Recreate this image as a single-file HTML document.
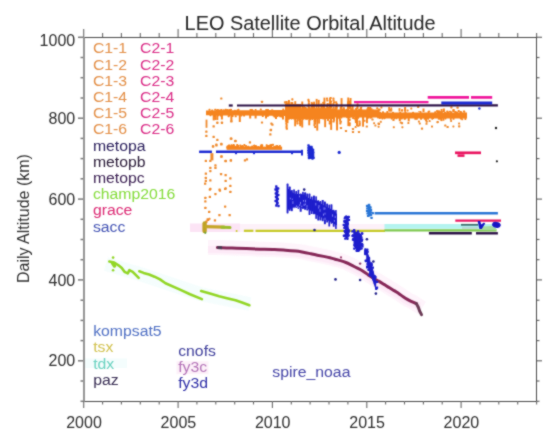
<!DOCTYPE html>
<html><head><meta charset="utf-8"><style>
html,body{margin:0;padding:0;background:#fff;}
svg{display:block;font-family:"Liberation Sans",sans-serif;will-change:transform;}
</style></head><body>
<svg width="550" height="439" viewBox="0 0 550 439">
<defs><filter id="bl" color-interpolation-filters="sRGB" x="0" y="0" width="550" height="439" filterUnits="userSpaceOnUse"><feConvolveMatrix order="3" kernelMatrix="1 2 1 2 12 2 1 2 1" divisor="24" edgeMode="duplicate"/></filter></defs>
<rect width="550" height="439" fill="#fff"/>
<g filter="url(#bl)">
<rect x="190.0" y="224.0" width="195.0" height="8.0" fill="#fdf1f9"/>
<rect x="190.0" y="223.5" width="50.0" height="8.5" fill="#fce4f5"/>
<polyline points="208.0,247.6 217.5,247.6 232.0,248.1 246.4,248.6 260.0,249.2 272.7,249.5 285.4,250.2 295.6,251.1 303.3,252.2 310.9,253.8 317.3,255.2 323.6,256.4 330.0,257.8 335.0,259.2 340.5,260.6 345.9,262.5 351.4,265.1 356.8,267.9 362.3,270.7 367.7,274.4 373.2,278.2 378.6,281.1 384.1,284.4 389.5,287.8 394.1,290.6 398.7,293.5 403.2,296.7 407.8,299.6 412.3,301.9 422.0,308.0" fill="none" stroke="#fef4fb" stroke-width="15" stroke-linecap="butt" stroke-linejoin="round"/>
<polyline points="208.0,249.5 217.5,249.6 232.0,250.1 246.4,250.6 260.0,251.2 272.7,251.5 285.4,252.2 295.6,253.1 303.3,254.2 310.9,255.8 317.3,257.2 323.6,258.4 330.0,259.8 335.0,261.2 340.5,262.6 345.9,264.5 351.4,267.1 356.8,269.9 362.3,272.7 367.7,276.4 373.2,280.2 378.6,283.1 384.1,286.4 389.5,289.8 394.1,292.6 398.7,295.5 403.2,298.7 407.8,301.6 412.3,303.9 420.0,306.0" fill="none" stroke="#fdeaf7" stroke-width="7" stroke-linecap="butt" stroke-linejoin="round"/>
<polyline points="106.0,264.0 140.0,274.0 200.0,294.0 250.0,304.0" fill="none" stroke="#f5fdfd" stroke-width="14" stroke-linecap="butt" stroke-linejoin="round"/>
<rect x="384.5" y="224.0" width="111.5" height="4.8" fill="#b4f4f0"/>
<line x1="243.9" y1="230.8" x2="253.4" y2="230.8" stroke="#c6ca26" stroke-width="2.2" stroke-linecap="butt"/>
<line x1="255.5" y1="230.8" x2="385.0" y2="230.8" stroke="#c6ca26" stroke-width="2.2" stroke-linecap="butt"/>
<circle cx="236.6" cy="231.1" r="1" fill="#c6ca26"/>
<line x1="384.5" y1="230.3" x2="496.6" y2="230.3" stroke="#7cc84e" stroke-width="2.2" stroke-linecap="butt"/>
<line x1="461.0" y1="224.8" x2="478.0" y2="224.8" stroke="#3c6a6a" stroke-width="1.8" stroke-linecap="butt"/>
<line x1="428.9" y1="233.3" x2="471.8" y2="233.3" stroke="#2b1045" stroke-width="2.4" stroke-linecap="butt"/>
<line x1="476.0" y1="233.3" x2="497.9" y2="233.3" stroke="#2b1045" stroke-width="2.4" stroke-linecap="butt"/>
<line x1="374.6" y1="213.2" x2="497.9" y2="213.2" stroke="#2a76d6" stroke-width="2.6" stroke-linecap="butt"/>
<line x1="455.3" y1="220.6" x2="501.0" y2="220.6" stroke="#ea1560" stroke-width="2.3" stroke-linecap="butt"/>
<line x1="455.0" y1="152.8" x2="481.0" y2="152.8" stroke="#ea1560" stroke-width="2.7" stroke-linecap="butt"/>
<rect x="457.5" y="154.3" width="7.0" height="2.6" fill="#ea1560"/>
<path d="M217.5,247.6 C219.9,247.7 227.2,247.9 232.0,248.1 C236.8,248.3 241.7,248.4 246.4,248.6 C251.1,248.8 255.6,249.0 260.0,249.2 C264.4,249.3 268.5,249.3 272.7,249.5 C276.9,249.7 281.6,249.9 285.4,250.2 C289.2,250.5 292.6,250.8 295.6,251.1 C298.6,251.4 300.8,251.8 303.3,252.2 C305.9,252.6 308.6,253.3 310.9,253.8 C313.2,254.3 315.2,254.8 317.3,255.2 C319.4,255.6 321.5,256.0 323.6,256.4 C325.7,256.8 328.1,257.3 330.0,257.8 C331.9,258.3 333.2,258.7 335.0,259.2 C336.8,259.7 338.7,260.1 340.5,260.6 C342.3,261.2 344.1,261.8 345.9,262.5 C347.7,263.2 349.6,264.2 351.4,265.1 C353.2,266.0 355.0,267.0 356.8,267.9 C358.6,268.8 360.5,269.6 362.3,270.7 C364.1,271.8 365.9,273.1 367.7,274.4 C369.5,275.6 371.4,277.1 373.2,278.2 C375.0,279.3 376.8,280.1 378.6,281.1 C380.4,282.1 382.3,283.3 384.1,284.4 C385.9,285.5 387.8,286.8 389.5,287.8 C391.2,288.8 392.6,289.7 394.1,290.6 C395.6,291.6 397.2,292.5 398.7,293.5 C400.2,294.5 401.7,295.7 403.2,296.7 C404.7,297.7 406.3,298.7 407.8,299.6 C409.3,300.5 410.9,301.2 412.3,301.9 C413.7,302.6 415.7,303.3 416.4,303.6" fill="none" stroke="#862858" stroke-width="3.0" stroke-linecap="round" stroke-linejoin="round"/>
<polyline points="416.4,303.6 418.3,307.3 419.6,311.0 421.5,314.6" fill="none" stroke="#6a3a55" stroke-width="3.0" stroke-linecap="round" stroke-linejoin="round"/>
<line x1="217.5" y1="247.6" x2="222.0" y2="247.8" stroke="#4a3a50" stroke-width="3.0" stroke-linecap="butt"/>
<polyline points="109.3,261.5 114.2,262.5 118.5,265.3 121.8,268.0 124.5,271.8 127.8,273.4 129.4,270.2 132.7,271.8 136.0,275.1 138.7,277.8" fill="none" stroke="#92d626" stroke-width="2.6" stroke-linecap="round" stroke-linejoin="round"/>
<polyline points="112.5,263.0 114.5,266.0" fill="none" stroke="#92d626" stroke-width="3.5" stroke-linecap="round" stroke-linejoin="round"/>
<polyline points="139.3,271.3 143.6,272.9 149.1,274.5 154.5,276.7 160.0,279.4 165.5,283.2 180.0,289.6 190.0,294.2 201.9,299.1" fill="none" stroke="#92d626" stroke-width="2.6" stroke-linecap="round" stroke-linejoin="round"/>
<polyline points="201.1,291.0 210.0,293.6 219.1,296.2 227.0,298.2 235.5,300.3 242.0,302.6 249.4,305.2" fill="none" stroke="#92d626" stroke-width="2.6" stroke-linecap="round" stroke-linejoin="round"/>
<circle cx="113.1" cy="257.6" r="1.3" fill="#92d626"/>
<circle cx="113.1" cy="270.2" r="1.3" fill="#92d626"/>
<polygon points="206.0,110.4 207.0,110.4 208.0,110.4 209.0,110.4 210.0,110.4 211.0,110.4 212.0,110.4 213.0,110.4 214.0,110.4 215.0,110.4 216.0,110.4 217.0,110.4 218.0,110.4 219.0,110.3 220.0,110.3 221.0,110.3 222.0,110.3 223.0,110.3 224.0,110.3 225.0,110.3 226.0,110.3 227.0,110.3 228.0,110.3 229.0,110.3 230.0,110.3 231.0,110.3 232.0,110.3 233.0,110.3 234.0,110.3 235.0,110.3 236.0,110.3 237.0,110.3 238.0,110.3 239.0,110.3 240.0,110.3 241.0,110.3 242.0,110.3 243.0,110.3 244.0,110.2 245.0,110.2 246.0,110.2 247.0,110.2 248.0,110.2 249.0,110.2 250.0,110.2 251.0,110.2 252.0,110.2 253.0,110.2 254.0,110.2 255.0,110.2 256.0,110.2 257.0,110.2 258.0,110.2 259.0,110.2 260.0,110.2 261.0,110.2 262.0,110.2 263.0,110.2 264.0,110.2 265.0,110.2 266.0,110.2 267.0,110.2 268.0,110.2 269.0,110.1 270.0,110.1 271.0,110.1 272.0,110.1 273.0,110.1 274.0,110.1 275.0,110.1 276.0,110.1 277.0,110.1 278.0,110.1 279.0,110.1 280.0,110.1 281.0,110.1 282.0,110.1 283.0,110.1 284.0,110.1 285.0,110.1 286.0,110.1 287.0,110.1 288.0,108.6 289.0,108.6 290.0,108.6 291.0,108.6 292.0,108.6 293.0,108.6 294.0,108.6 295.0,108.6 296.0,108.6 297.0,108.6 298.0,108.6 299.0,108.6 300.0,108.6 301.0,108.6 302.0,108.6 303.0,108.6 304.0,108.6 305.0,108.6 306.0,108.6 307.0,108.6 308.0,108.6 309.0,108.6 310.0,108.6 311.0,108.6 312.0,108.6 313.0,108.6 314.0,108.6 315.0,108.6 316.0,108.6 317.0,108.6 318.0,108.6 319.0,108.6 320.0,108.6 321.0,108.6 322.0,108.6 323.0,108.6 324.0,108.6 325.0,108.6 326.0,108.6 327.0,108.6 328.0,108.6 329.0,108.6 330.0,108.6 331.0,108.6 332.0,108.6 333.0,108.6 334.0,108.6 335.0,109.6 336.0,109.6 337.0,109.6 338.0,109.6 339.0,109.6 340.0,109.6 341.0,109.6 342.0,109.6 343.0,109.6 344.0,109.6 345.0,109.6 346.0,109.6 347.0,109.6 348.0,109.6 349.0,109.6 350.0,109.6 351.0,109.6 352.0,109.6 353.0,109.6 354.0,109.6 355.0,109.6 356.0,109.6 357.0,109.6 358.0,109.6 359.0,109.6 360.0,109.6 361.0,109.6 362.0,109.6 363.0,109.6 364.0,109.6 365.0,109.6 366.0,109.6 367.0,109.6 368.0,109.6 369.0,109.6 370.0,109.6 371.0,109.6 372.0,109.6 373.0,109.6 374.0,109.6 375.0,109.6 376.0,109.6 377.0,109.6 378.0,109.6 379.0,109.6 380.0,112.4 381.0,112.4 382.0,112.4 383.0,112.4 384.0,112.4 385.0,112.4 386.0,112.4 387.0,112.4 388.0,112.4 389.0,112.4 390.0,112.4 391.0,112.4 392.0,112.4 393.0,112.4 394.0,112.4 395.0,112.4 396.0,112.4 397.0,112.4 398.0,112.4 399.0,112.4 400.0,112.4 401.0,112.4 402.0,112.4 403.0,112.4 404.0,112.4 405.0,112.4 406.0,112.4 407.0,112.4 408.0,112.4 409.0,112.4 410.0,112.4 411.0,112.4 412.0,112.4 413.0,112.4 414.0,112.4 415.0,112.4 416.0,112.4 417.0,112.4 418.0,112.4 419.0,112.4 420.0,112.4 421.0,112.4 422.0,112.4 423.0,112.4 424.0,112.4 425.0,112.4 426.0,112.4 427.0,112.4 428.0,112.4 429.0,112.4 430.0,112.4 431.0,112.4 432.0,112.4 433.0,112.4 434.0,112.4 435.0,112.4 436.0,112.4 437.0,112.4 438.0,112.4 439.0,112.4 440.0,112.4 441.0,112.4 442.0,112.4 443.0,112.4 444.0,112.4 445.0,112.4 446.0,112.4 447.0,112.4 448.0,112.4 449.0,112.4 450.0,112.4 451.0,112.4 452.0,112.4 453.0,112.4 454.0,112.4 455.0,112.4 456.0,112.4 457.0,112.4 458.0,112.4 459.0,112.4 460.0,112.4 461.0,112.4 462.0,112.4 463.0,112.4 464.0,112.4 465.0,112.4 466.0,112.4 467.0,112.4 467.0,118.4 466.0,118.4 465.0,118.4 464.0,118.4 463.0,118.4 462.0,118.4 461.0,118.4 460.0,118.4 459.0,118.4 458.0,118.4 457.0,118.4 456.0,118.4 455.0,118.4 454.0,118.4 453.0,118.4 452.0,118.4 451.0,118.4 450.0,118.4 449.0,118.4 448.0,118.4 447.0,118.4 446.0,118.4 445.0,118.4 444.0,118.4 443.0,118.4 442.0,118.4 441.0,118.4 440.0,118.4 439.0,118.4 438.0,118.4 437.0,118.4 436.0,118.4 435.0,118.4 434.0,118.4 433.0,118.4 432.0,118.4 431.0,118.4 430.0,118.4 429.0,118.4 428.0,118.4 427.0,118.4 426.0,118.4 425.0,118.4 424.0,118.4 423.0,118.4 422.0,118.4 421.0,118.4 420.0,118.4 419.0,118.4 418.0,118.4 417.0,118.4 416.0,118.4 415.0,118.4 414.0,118.4 413.0,118.4 412.0,118.4 411.0,118.4 410.0,118.4 409.0,118.4 408.0,118.4 407.0,118.4 406.0,118.4 405.0,118.4 404.0,118.4 403.0,118.4 402.0,118.4 401.0,118.4 400.0,118.4 399.0,118.4 398.0,118.4 397.0,118.4 396.0,118.4 395.0,118.4 394.0,118.4 393.0,118.4 392.0,118.4 391.0,118.4 390.0,118.4 389.0,118.4 388.0,118.4 387.0,118.4 386.0,118.4 385.0,118.4 384.0,118.4 383.0,118.4 382.0,118.4 381.0,118.4 380.0,118.4 379.0,117.6 378.0,117.6 377.0,117.6 376.0,117.6 375.0,117.6 374.0,117.6 373.0,117.6 372.0,117.6 371.0,117.6 370.0,117.6 369.0,117.6 368.0,117.6 367.0,117.6 366.0,117.6 365.0,117.6 364.0,117.6 363.0,117.6 362.0,117.6 361.0,117.6 360.0,117.6 359.0,117.6 358.0,117.6 357.0,117.6 356.0,117.6 355.0,117.6 354.0,117.6 353.0,117.6 352.0,117.6 351.0,117.6 350.0,117.6 349.0,117.6 348.0,117.6 347.0,117.6 346.0,117.6 345.0,117.6 344.0,117.6 343.0,117.6 342.0,117.6 341.0,117.6 340.0,117.6 339.0,117.6 338.0,117.6 337.0,117.6 336.0,117.6 335.0,117.6 334.0,118.2 333.0,118.2 332.0,118.2 331.0,118.2 330.0,118.2 329.0,118.2 328.0,118.2 327.0,118.2 326.0,118.2 325.0,118.2 324.0,118.2 323.0,118.2 322.0,118.2 321.0,118.2 320.0,118.2 319.0,118.2 318.0,118.2 317.0,118.2 316.0,118.2 315.0,118.2 314.0,118.2 313.0,118.2 312.0,118.2 311.0,118.2 310.0,118.2 309.0,118.2 308.0,118.2 307.0,118.2 306.0,118.2 305.0,118.2 304.0,118.2 303.0,118.2 302.0,118.2 301.0,118.2 300.0,118.2 299.0,118.2 298.0,118.2 297.0,118.2 296.0,118.2 295.0,118.2 294.0,118.2 293.0,118.2 292.0,118.2 291.0,118.2 290.0,118.2 289.0,118.2 288.0,118.2 287.0,115.9 286.0,115.9 285.0,115.9 284.0,115.9 283.0,115.9 282.0,115.9 281.0,115.9 280.0,115.9 279.0,115.9 278.0,115.9 277.0,115.9 276.0,115.9 275.0,115.9 274.0,115.8 273.0,115.8 272.0,115.8 271.0,115.8 270.0,115.8 269.0,115.8 268.0,115.8 267.0,115.8 266.0,115.8 265.0,115.8 264.0,115.8 263.0,115.8 262.0,115.7 261.0,115.7 260.0,115.7 259.0,115.7 258.0,115.7 257.0,115.7 256.0,115.7 255.0,115.7 254.0,115.7 253.0,115.7 252.0,115.7 251.0,115.7 250.0,115.7 249.0,115.6 248.0,115.6 247.0,115.6 246.0,115.6 245.0,115.6 244.0,115.6 243.0,115.6 242.0,115.6 241.0,115.6 240.0,115.6 239.0,115.6 238.0,115.6 237.0,115.5 236.0,115.5 235.0,115.5 234.0,115.5 233.0,115.5 232.0,115.5 231.0,115.5 230.0,115.5 229.0,115.5 228.0,115.5 227.0,115.5 226.0,115.5 225.0,115.5 224.0,115.4 223.0,115.4 222.0,115.4 221.0,115.4 220.0,115.4 219.0,115.4 218.0,115.4 217.0,115.4 216.0,115.4 215.0,115.4 214.0,115.4 213.0,115.4 212.0,115.3 211.0,115.3 210.0,115.3 209.0,115.3 208.0,115.3 207.0,115.3 206.0,115.3" fill="#f5841f"/>
<rect x="208.5" y="108.8" width="2.0" height="2.0" rx="0.6" fill="#f5841f"/>
<rect x="209.5" y="114.2" width="2.0" height="2.0" rx="0.6" fill="#f5841f"/>
<rect x="211.2" y="109.5" width="2.0" height="2.0" rx="0.6" fill="#f5841f"/>
<rect x="212.8" y="114.1" width="2.0" height="2.0" rx="0.6" fill="#f5841f"/>
<rect x="213.0" y="115.0" width="2.0" height="2.0" rx="0.6" fill="#f5841f"/>
<rect x="214.2" y="108.8" width="2.0" height="2.0" rx="0.6" fill="#f5841f"/>
<rect x="216.0" y="109.2" width="2.0" height="2.0" rx="0.6" fill="#f5841f"/>
<rect x="216.9" y="109.1" width="2.0" height="2.0" rx="0.6" fill="#f5841f"/>
<rect x="217.4" y="114.2" width="2.0" height="2.0" rx="0.6" fill="#f5841f"/>
<rect x="218.1" y="109.4" width="2.0" height="2.0" rx="0.6" fill="#f5841f"/>
<rect x="219.7" y="109.4" width="2.0" height="2.0" rx="0.6" fill="#f5841f"/>
<rect x="219.8" y="114.6" width="2.0" height="2.0" rx="0.6" fill="#f5841f"/>
<rect x="220.5" y="109.0" width="2.0" height="2.0" rx="0.6" fill="#f5841f"/>
<rect x="221.0" y="114.0" width="2.0" height="2.0" rx="0.6" fill="#f5841f"/>
<rect x="222.8" y="109.4" width="2.0" height="2.0" rx="0.6" fill="#f5841f"/>
<rect x="223.0" y="109.5" width="2.0" height="2.0" rx="0.6" fill="#f5841f"/>
<rect x="224.8" y="108.8" width="2.0" height="2.0" rx="0.6" fill="#f5841f"/>
<rect x="225.4" y="109.2" width="2.0" height="2.0" rx="0.6" fill="#f5841f"/>
<rect x="226.7" y="108.9" width="2.0" height="2.0" rx="0.6" fill="#f5841f"/>
<rect x="227.9" y="109.6" width="2.0" height="2.0" rx="0.6" fill="#f5841f"/>
<rect x="227.6" y="115.2" width="2.0" height="2.0" rx="0.6" fill="#f5841f"/>
<rect x="228.9" y="109.2" width="2.0" height="2.0" rx="0.6" fill="#f5841f"/>
<rect x="228.3" y="114.3" width="2.0" height="2.0" rx="0.6" fill="#f5841f"/>
<rect x="229.1" y="109.0" width="2.0" height="2.0" rx="0.6" fill="#f5841f"/>
<rect x="230.0" y="108.7" width="2.0" height="2.0" rx="0.6" fill="#f5841f"/>
<rect x="231.6" y="115.1" width="2.0" height="2.0" rx="0.6" fill="#f5841f"/>
<rect x="233.9" y="109.7" width="2.0" height="2.0" rx="0.6" fill="#f5841f"/>
<rect x="234.7" y="115.3" width="2.0" height="2.0" rx="0.6" fill="#f5841f"/>
<rect x="236.4" y="109.5" width="2.0" height="2.0" rx="0.6" fill="#f5841f"/>
<rect x="237.5" y="108.7" width="2.0" height="2.0" rx="0.6" fill="#f5841f"/>
<rect x="240.4" y="114.4" width="2.0" height="2.0" rx="0.6" fill="#f5841f"/>
<rect x="243.1" y="114.5" width="2.0" height="2.0" rx="0.6" fill="#f5841f"/>
<rect x="249.5" y="108.9" width="2.0" height="2.0" rx="0.6" fill="#f5841f"/>
<rect x="250.9" y="109.0" width="2.0" height="2.0" rx="0.6" fill="#f5841f"/>
<rect x="251.5" y="109.4" width="2.0" height="2.0" rx="0.6" fill="#f5841f"/>
<rect x="254.6" y="108.9" width="2.0" height="2.0" rx="0.6" fill="#f5841f"/>
<rect x="259.8" y="108.6" width="2.0" height="2.0" rx="0.6" fill="#f5841f"/>
<rect x="261.8" y="115.0" width="2.0" height="2.0" rx="0.6" fill="#f5841f"/>
<rect x="265.2" y="109.1" width="2.0" height="2.0" rx="0.6" fill="#f5841f"/>
<rect x="266.7" y="108.9" width="2.0" height="2.0" rx="0.6" fill="#f5841f"/>
<rect x="266.5" y="114.7" width="2.0" height="2.0" rx="0.6" fill="#f5841f"/>
<rect x="267.1" y="109.2" width="2.0" height="2.0" rx="0.6" fill="#f5841f"/>
<rect x="267.2" y="114.4" width="2.0" height="2.0" rx="0.6" fill="#f5841f"/>
<rect x="270.9" y="109.5" width="2.0" height="2.0" rx="0.6" fill="#f5841f"/>
<rect x="271.4" y="109.4" width="2.0" height="2.0" rx="0.6" fill="#f5841f"/>
<rect x="272.6" y="114.5" width="2.0" height="2.0" rx="0.6" fill="#f5841f"/>
<rect x="273.6" y="115.6" width="2.0" height="2.0" rx="0.6" fill="#f5841f"/>
<rect x="276.6" y="115.1" width="2.0" height="2.0" rx="0.6" fill="#f5841f"/>
<rect x="279.1" y="115.2" width="2.0" height="2.0" rx="0.6" fill="#f5841f"/>
<rect x="280.6" y="115.6" width="2.0" height="2.0" rx="0.6" fill="#f5841f"/>
<rect x="282.3" y="108.5" width="2.0" height="2.0" rx="0.6" fill="#f5841f"/>
<rect x="285.0" y="115.1" width="2.0" height="2.0" rx="0.6" fill="#f5841f"/>
<rect x="286.0" y="115.1" width="2.0" height="2.0" rx="0.6" fill="#f5841f"/>
<rect x="286.5" y="109.4" width="2.0" height="2.0" rx="0.6" fill="#f5841f"/>
<rect x="287.8" y="117.8" width="2.0" height="2.0" rx="0.6" fill="#f5841f"/>
<rect x="288.5" y="107.7" width="2.0" height="2.0" rx="0.6" fill="#f5841f"/>
<rect x="289.3" y="117.0" width="2.0" height="2.0" rx="0.6" fill="#f5841f"/>
<rect x="290.6" y="117.4" width="2.0" height="2.0" rx="0.6" fill="#f5841f"/>
<rect x="292.8" y="117.2" width="2.0" height="2.0" rx="0.6" fill="#f5841f"/>
<rect x="293.3" y="117.4" width="2.0" height="2.0" rx="0.6" fill="#f5841f"/>
<rect x="296.3" y="107.5" width="2.0" height="2.0" rx="0.6" fill="#f5841f"/>
<rect x="298.8" y="107.6" width="2.0" height="2.0" rx="0.6" fill="#f5841f"/>
<rect x="302.3" y="117.8" width="2.0" height="2.0" rx="0.6" fill="#f5841f"/>
<rect x="303.8" y="107.3" width="2.0" height="2.0" rx="0.6" fill="#f5841f"/>
<rect x="304.8" y="107.1" width="2.0" height="2.0" rx="0.6" fill="#f5841f"/>
<rect x="304.5" y="117.5" width="2.0" height="2.0" rx="0.6" fill="#f5841f"/>
<rect x="305.2" y="117.5" width="2.0" height="2.0" rx="0.6" fill="#f5841f"/>
<rect x="306.2" y="117.8" width="2.0" height="2.0" rx="0.6" fill="#f5841f"/>
<rect x="308.7" y="107.0" width="2.0" height="2.0" rx="0.6" fill="#f5841f"/>
<rect x="309.8" y="117.1" width="2.0" height="2.0" rx="0.6" fill="#f5841f"/>
<rect x="311.3" y="117.9" width="2.0" height="2.0" rx="0.6" fill="#f5841f"/>
<rect x="312.6" y="107.6" width="2.0" height="2.0" rx="0.6" fill="#f5841f"/>
<rect x="312.6" y="116.9" width="2.0" height="2.0" rx="0.6" fill="#f5841f"/>
<rect x="313.4" y="107.9" width="2.0" height="2.0" rx="0.6" fill="#f5841f"/>
<rect x="313.6" y="117.7" width="2.0" height="2.0" rx="0.6" fill="#f5841f"/>
<rect x="314.4" y="117.2" width="2.0" height="2.0" rx="0.6" fill="#f5841f"/>
<rect x="317.7" y="107.8" width="2.0" height="2.0" rx="0.6" fill="#f5841f"/>
<rect x="320.6" y="107.7" width="2.0" height="2.0" rx="0.6" fill="#f5841f"/>
<rect x="321.2" y="117.2" width="2.0" height="2.0" rx="0.6" fill="#f5841f"/>
<rect x="322.7" y="117.6" width="2.0" height="2.0" rx="0.6" fill="#f5841f"/>
<rect x="323.7" y="107.9" width="2.0" height="2.0" rx="0.6" fill="#f5841f"/>
<rect x="323.6" y="117.1" width="2.0" height="2.0" rx="0.6" fill="#f5841f"/>
<rect x="325.8" y="108.0" width="2.0" height="2.0" rx="0.6" fill="#f5841f"/>
<rect x="326.2" y="107.0" width="2.0" height="2.0" rx="0.6" fill="#f5841f"/>
<rect x="327.1" y="107.0" width="2.0" height="2.0" rx="0.6" fill="#f5841f"/>
<rect x="328.6" y="117.2" width="2.0" height="2.0" rx="0.6" fill="#f5841f"/>
<rect x="329.3" y="107.4" width="2.0" height="2.0" rx="0.6" fill="#f5841f"/>
<rect x="329.4" y="117.0" width="2.0" height="2.0" rx="0.6" fill="#f5841f"/>
<rect x="335.0" y="108.8" width="2.0" height="2.0" rx="0.6" fill="#f5841f"/>
<rect x="335.9" y="116.8" width="2.0" height="2.0" rx="0.6" fill="#f5841f"/>
<rect x="336.5" y="117.3" width="2.0" height="2.0" rx="0.6" fill="#f5841f"/>
<rect x="338.2" y="116.4" width="2.0" height="2.0" rx="0.6" fill="#f5841f"/>
<rect x="340.3" y="116.5" width="2.0" height="2.0" rx="0.6" fill="#f5841f"/>
<rect x="341.3" y="108.8" width="2.0" height="2.0" rx="0.6" fill="#f5841f"/>
<rect x="342.9" y="108.6" width="2.0" height="2.0" rx="0.6" fill="#f5841f"/>
<rect x="345.7" y="108.7" width="2.0" height="2.0" rx="0.6" fill="#f5841f"/>
<rect x="346.2" y="116.2" width="2.0" height="2.0" rx="0.6" fill="#f5841f"/>
<rect x="347.1" y="108.6" width="2.0" height="2.0" rx="0.6" fill="#f5841f"/>
<rect x="348.5" y="116.5" width="2.0" height="2.0" rx="0.6" fill="#f5841f"/>
<rect x="350.2" y="108.3" width="2.0" height="2.0" rx="0.6" fill="#f5841f"/>
<rect x="352.1" y="117.1" width="2.0" height="2.0" rx="0.6" fill="#f5841f"/>
<rect x="353.5" y="117.4" width="2.0" height="2.0" rx="0.6" fill="#f5841f"/>
<rect x="355.1" y="108.1" width="2.0" height="2.0" rx="0.6" fill="#f5841f"/>
<rect x="356.2" y="116.3" width="2.0" height="2.0" rx="0.6" fill="#f5841f"/>
<rect x="357.3" y="116.7" width="2.0" height="2.0" rx="0.6" fill="#f5841f"/>
<rect x="358.1" y="109.0" width="2.0" height="2.0" rx="0.6" fill="#f5841f"/>
<rect x="359.5" y="108.6" width="2.0" height="2.0" rx="0.6" fill="#f5841f"/>
<rect x="360.3" y="108.9" width="2.0" height="2.0" rx="0.6" fill="#f5841f"/>
<rect x="362.0" y="116.8" width="2.0" height="2.0" rx="0.6" fill="#f5841f"/>
<rect x="366.4" y="108.2" width="2.0" height="2.0" rx="0.6" fill="#f5841f"/>
<rect x="366.1" y="116.6" width="2.0" height="2.0" rx="0.6" fill="#f5841f"/>
<rect x="367.8" y="108.2" width="2.0" height="2.0" rx="0.6" fill="#f5841f"/>
<rect x="367.1" y="116.3" width="2.0" height="2.0" rx="0.6" fill="#f5841f"/>
<rect x="368.1" y="108.6" width="2.0" height="2.0" rx="0.6" fill="#f5841f"/>
<rect x="369.1" y="108.3" width="2.0" height="2.0" rx="0.6" fill="#f5841f"/>
<rect x="369.2" y="116.5" width="2.0" height="2.0" rx="0.6" fill="#f5841f"/>
<rect x="370.4" y="116.6" width="2.0" height="2.0" rx="0.6" fill="#f5841f"/>
<rect x="377.8" y="108.6" width="2.0" height="2.0" rx="0.6" fill="#f5841f"/>
<rect x="377.1" y="116.4" width="2.0" height="2.0" rx="0.6" fill="#f5841f"/>
<rect x="378.7" y="108.7" width="2.0" height="2.0" rx="0.6" fill="#f5841f"/>
<rect x="378.8" y="116.9" width="2.0" height="2.0" rx="0.6" fill="#f5841f"/>
<rect x="379.1" y="111.7" width="2.0" height="2.0" rx="0.6" fill="#f5841f"/>
<rect x="381.4" y="117.4" width="2.0" height="2.0" rx="0.6" fill="#f5841f"/>
<rect x="382.0" y="111.2" width="2.0" height="2.0" rx="0.6" fill="#f5841f"/>
<rect x="383.5" y="117.2" width="2.0" height="2.0" rx="0.6" fill="#f5841f"/>
<rect x="386.3" y="110.9" width="2.0" height="2.0" rx="0.6" fill="#f5841f"/>
<rect x="390.8" y="117.5" width="2.0" height="2.0" rx="0.6" fill="#f5841f"/>
<rect x="392.0" y="111.8" width="2.0" height="2.0" rx="0.6" fill="#f5841f"/>
<rect x="393.3" y="117.2" width="2.0" height="2.0" rx="0.6" fill="#f5841f"/>
<rect x="395.4" y="117.3" width="2.0" height="2.0" rx="0.6" fill="#f5841f"/>
<rect x="398.8" y="117.6" width="2.0" height="2.0" rx="0.6" fill="#f5841f"/>
<rect x="399.2" y="111.7" width="2.0" height="2.0" rx="0.6" fill="#f5841f"/>
<rect x="400.8" y="117.4" width="2.0" height="2.0" rx="0.6" fill="#f5841f"/>
<rect x="403.5" y="117.7" width="2.0" height="2.0" rx="0.6" fill="#f5841f"/>
<rect x="404.4" y="111.5" width="2.0" height="2.0" rx="0.6" fill="#f5841f"/>
<rect x="404.3" y="117.5" width="2.0" height="2.0" rx="0.6" fill="#f5841f"/>
<rect x="412.1" y="111.7" width="2.0" height="2.0" rx="0.6" fill="#f5841f"/>
<rect x="414.9" y="117.3" width="2.0" height="2.0" rx="0.6" fill="#f5841f"/>
<rect x="415.8" y="117.8" width="2.0" height="2.0" rx="0.6" fill="#f5841f"/>
<rect x="419.5" y="110.9" width="2.0" height="2.0" rx="0.6" fill="#f5841f"/>
<rect x="420.0" y="117.7" width="2.0" height="2.0" rx="0.6" fill="#f5841f"/>
<rect x="420.4" y="117.2" width="2.0" height="2.0" rx="0.6" fill="#f5841f"/>
<rect x="423.7" y="117.7" width="2.0" height="2.0" rx="0.6" fill="#f5841f"/>
<rect x="425.3" y="117.3" width="2.0" height="2.0" rx="0.6" fill="#f5841f"/>
<rect x="427.6" y="111.0" width="2.0" height="2.0" rx="0.6" fill="#f5841f"/>
<rect x="427.1" y="117.7" width="2.0" height="2.0" rx="0.6" fill="#f5841f"/>
<rect x="431.3" y="117.7" width="2.0" height="2.0" rx="0.6" fill="#f5841f"/>
<rect x="432.0" y="117.1" width="2.0" height="2.0" rx="0.6" fill="#f5841f"/>
<rect x="434.2" y="111.2" width="2.0" height="2.0" rx="0.6" fill="#f5841f"/>
<rect x="436.5" y="111.0" width="2.0" height="2.0" rx="0.6" fill="#f5841f"/>
<rect x="437.9" y="111.2" width="2.0" height="2.0" rx="0.6" fill="#f5841f"/>
<rect x="438.7" y="111.0" width="2.0" height="2.0" rx="0.6" fill="#f5841f"/>
<rect x="439.2" y="111.6" width="2.0" height="2.0" rx="0.6" fill="#f5841f"/>
<rect x="439.2" y="117.7" width="2.0" height="2.0" rx="0.6" fill="#f5841f"/>
<rect x="440.8" y="111.1" width="2.0" height="2.0" rx="0.6" fill="#f5841f"/>
<rect x="444.1" y="111.7" width="2.0" height="2.0" rx="0.6" fill="#f5841f"/>
<rect x="444.4" y="117.6" width="2.0" height="2.0" rx="0.6" fill="#f5841f"/>
<rect x="446.4" y="111.3" width="2.0" height="2.0" rx="0.6" fill="#f5841f"/>
<rect x="447.6" y="111.4" width="2.0" height="2.0" rx="0.6" fill="#f5841f"/>
<rect x="449.8" y="117.9" width="2.0" height="2.0" rx="0.6" fill="#f5841f"/>
<rect x="450.1" y="111.3" width="2.0" height="2.0" rx="0.6" fill="#f5841f"/>
<rect x="452.5" y="117.8" width="2.0" height="2.0" rx="0.6" fill="#f5841f"/>
<rect x="454.3" y="111.0" width="2.0" height="2.0" rx="0.6" fill="#f5841f"/>
<rect x="455.4" y="111.6" width="2.0" height="2.0" rx="0.6" fill="#f5841f"/>
<rect x="456.3" y="111.7" width="2.0" height="2.0" rx="0.6" fill="#f5841f"/>
<rect x="459.4" y="111.0" width="2.0" height="2.0" rx="0.6" fill="#f5841f"/>
<rect x="459.8" y="117.4" width="2.0" height="2.0" rx="0.6" fill="#f5841f"/>
<rect x="460.3" y="111.3" width="2.0" height="2.0" rx="0.6" fill="#f5841f"/>
<rect x="461.2" y="118.2" width="2.0" height="2.0" rx="0.6" fill="#f5841f"/>
<rect x="463.3" y="110.8" width="2.0" height="2.0" rx="0.6" fill="#f5841f"/>
<rect x="464.4" y="117.9" width="2.0" height="2.0" rx="0.6" fill="#f5841f"/>
<rect x="212.7" y="114.0" width="2.0" height="6.4" fill="#f5841f"/>
<rect x="214.3" y="114.0" width="2.0" height="6.0" fill="#f5841f"/>
<rect x="216.3" y="114.0" width="2.0" height="6.0" fill="#f5841f"/>
<rect x="220.9" y="114.0" width="2.0" height="5.5" fill="#f5841f"/>
<rect x="230.4" y="114.0" width="2.0" height="8.0" fill="#f5841f"/>
<rect x="238.8" y="114.0" width="2.0" height="8.0" fill="#f5841f"/>
<rect x="249.2" y="114.0" width="2.0" height="4.5" fill="#f5841f"/>
<rect x="254.6" y="114.0" width="2.0" height="4.5" fill="#f5841f"/>
<rect x="265.0" y="114.0" width="2.0" height="4.5" fill="#f5841f"/>
<rect x="275.0" y="114.0" width="2.0" height="5.0" fill="#f5841f"/>
<rect x="282.0" y="114.0" width="2.0" height="5.5" fill="#f5841f"/>
<rect x="317.8" y="99.9" width="1.9" height="9.1" fill="#f5841f"/>
<rect x="347.3" y="97.5" width="1.9" height="11.5" fill="#f5841f"/>
<rect x="349.6" y="98.0" width="1.9" height="11.0" fill="#f5841f"/>
<rect x="329.1" y="97.8" width="1.9" height="11.2" fill="#f5841f"/>
<rect x="335.1" y="101.2" width="2.1" height="2.1" rx="0.6" fill="#f5841f"/>
<rect x="335.6" y="103.0" width="2.1" height="2.1" rx="0.6" fill="#f5841f"/>
<rect x="335.5" y="104.8" width="2.1" height="2.1" rx="0.6" fill="#f5841f"/>
<rect x="335.5" y="106.6" width="2.1" height="2.1" rx="0.6" fill="#f5841f"/>
<rect x="291.3" y="98.3" width="2.1" height="2.1" rx="0.6" fill="#f5841f"/>
<rect x="291.2" y="101.9" width="2.1" height="2.1" rx="0.6" fill="#f5841f"/>
<rect x="291.6" y="103.7" width="2.1" height="2.1" rx="0.6" fill="#f5841f"/>
<rect x="291.6" y="107.3" width="2.1" height="2.1" rx="0.6" fill="#f5841f"/>
<rect x="288.0" y="100.0" width="1.9" height="9.0" fill="#f5841f"/>
<rect x="285.4" y="101.0" width="2.1" height="2.1" rx="0.6" fill="#f5841f"/>
<rect x="285.9" y="102.8" width="2.1" height="2.1" rx="0.6" fill="#f5841f"/>
<rect x="285.4" y="104.6" width="2.1" height="2.1" rx="0.6" fill="#f5841f"/>
<rect x="323.5" y="97.6" width="1.9" height="11.4" fill="#f5841f"/>
<rect x="320.3" y="103.5" width="1.9" height="5.5" fill="#f5841f"/>
<rect x="313.1" y="101.7" width="1.9" height="7.3" fill="#f5841f"/>
<rect x="326.0" y="97.6" width="2.1" height="2.1" rx="0.6" fill="#f5841f"/>
<rect x="326.3" y="99.4" width="2.1" height="2.1" rx="0.6" fill="#f5841f"/>
<rect x="326.6" y="103.0" width="2.1" height="2.1" rx="0.6" fill="#f5841f"/>
<rect x="326.0" y="104.8" width="2.1" height="2.1" rx="0.6" fill="#f5841f"/>
<rect x="326.5" y="106.6" width="2.1" height="2.1" rx="0.6" fill="#f5841f"/>
<rect x="301.3" y="101.5" width="1.9" height="7.5" fill="#f5841f"/>
<rect x="310.8" y="101.9" width="1.9" height="7.1" fill="#f5841f"/>
<rect x="340.6" y="98.1" width="1.9" height="10.9" fill="#f5841f"/>
<rect x="347.1" y="101.3" width="1.9" height="7.7" fill="#f5841f"/>
<rect x="313.4" y="103.9" width="1.9" height="5.1" fill="#f5841f"/>
<rect x="285.4" y="102.7" width="1.9" height="6.3" fill="#f5841f"/>
<rect x="315.7" y="98.9" width="1.9" height="10.1" fill="#f5841f"/>
<rect x="307.4" y="98.8" width="2.1" height="2.1" rx="0.6" fill="#f5841f"/>
<rect x="307.8" y="100.6" width="2.1" height="2.1" rx="0.6" fill="#f5841f"/>
<rect x="307.8" y="102.4" width="2.1" height="2.1" rx="0.6" fill="#f5841f"/>
<rect x="307.8" y="104.2" width="2.1" height="2.1" rx="0.6" fill="#f5841f"/>
<rect x="307.5" y="106.0" width="2.1" height="2.1" rx="0.6" fill="#f5841f"/>
<rect x="307.6" y="107.8" width="2.1" height="2.1" rx="0.6" fill="#f5841f"/>
<rect x="311.3" y="103.1" width="1.9" height="5.9" fill="#f5841f"/>
<rect x="332.4" y="97.6" width="2.1" height="2.1" rx="0.6" fill="#f5841f"/>
<rect x="332.5" y="99.4" width="2.1" height="2.1" rx="0.6" fill="#f5841f"/>
<rect x="333.0" y="101.2" width="2.1" height="2.1" rx="0.6" fill="#f5841f"/>
<rect x="332.4" y="103.0" width="2.1" height="2.1" rx="0.6" fill="#f5841f"/>
<rect x="332.6" y="106.6" width="2.1" height="2.1" rx="0.6" fill="#f5841f"/>
<rect x="328.7" y="103.8" width="1.9" height="5.2" fill="#f5841f"/>
<rect x="294.3" y="101.2" width="1.9" height="7.8" fill="#f5841f"/>
<rect x="290.4" y="101.9" width="2.1" height="2.1" rx="0.6" fill="#f5841f"/>
<rect x="290.2" y="103.7" width="2.1" height="2.1" rx="0.6" fill="#f5841f"/>
<rect x="290.1" y="105.5" width="2.1" height="2.1" rx="0.6" fill="#f5841f"/>
<rect x="290.4" y="107.3" width="2.1" height="2.1" rx="0.6" fill="#f5841f"/>
<rect x="348.3" y="100.7" width="1.9" height="8.3" fill="#f5841f"/>
<rect x="287.6" y="100.9" width="1.9" height="8.1" fill="#f5841f"/>
<rect x="329.6" y="97.0" width="2.1" height="2.1" rx="0.6" fill="#f5841f"/>
<rect x="330.0" y="100.6" width="2.1" height="2.1" rx="0.6" fill="#f5841f"/>
<rect x="329.7" y="102.4" width="2.1" height="2.1" rx="0.6" fill="#f5841f"/>
<rect x="330.2" y="104.2" width="2.1" height="2.1" rx="0.6" fill="#f5841f"/>
<rect x="330.2" y="106.0" width="2.1" height="2.1" rx="0.6" fill="#f5841f"/>
<rect x="356.6" y="103.3" width="1.9" height="5.7" fill="#f5841f"/>
<rect x="322.2" y="101.7" width="2.1" height="2.1" rx="0.6" fill="#f5841f"/>
<rect x="322.3" y="103.5" width="2.1" height="2.1" rx="0.6" fill="#f5841f"/>
<rect x="321.9" y="105.3" width="2.1" height="2.1" rx="0.6" fill="#f5841f"/>
<rect x="322.1" y="107.1" width="2.1" height="2.1" rx="0.6" fill="#f5841f"/>
<rect x="285.0" y="104.0" width="16.0" height="6.0" fill="#f5841f"/>
<rect x="328.4" y="107.3" width="2.0" height="2.7" fill="#f5841f"/>
<rect x="302.2" y="107.2" width="2.0" height="2.8" fill="#f5841f"/>
<rect x="321.4" y="107.8" width="2.0" height="2.2" fill="#f5841f"/>
<rect x="312.9" y="107.6" width="2.0" height="2.4" fill="#f5841f"/>
<rect x="342.8" y="107.2" width="2.0" height="2.8" fill="#f5841f"/>
<rect x="351.6" y="106.1" width="2.0" height="3.9" fill="#f5841f"/>
<rect x="334.8" y="107.2" width="2.0" height="2.8" fill="#f5841f"/>
<rect x="339.7" y="106.8" width="2.0" height="3.2" fill="#f5841f"/>
<rect x="303.1" y="106.4" width="2.0" height="3.6" fill="#f5841f"/>
<rect x="335.5" y="106.4" width="2.0" height="3.6" fill="#f5841f"/>
<rect x="302.9" y="106.7" width="2.0" height="3.3" fill="#f5841f"/>
<rect x="327.2" y="107.1" width="2.0" height="2.9" fill="#f5841f"/>
<rect x="355.6" y="107.5" width="2.0" height="2.0" rx="0.6" fill="#f5841f"/>
<rect x="401.1" y="109.4" width="1.8" height="2.1" fill="#f5841f"/>
<rect x="389.4" y="109.5" width="2.0" height="2.0" rx="0.6" fill="#f5841f"/>
<rect x="404.1" y="107.5" width="1.8" height="4.0" fill="#f5841f"/>
<rect x="367.9" y="107.1" width="2.0" height="2.0" rx="0.6" fill="#f5841f"/>
<rect x="367.4" y="106.9" width="1.8" height="4.6" fill="#f5841f"/>
<rect x="410.3" y="107.6" width="2.0" height="2.0" rx="0.6" fill="#f5841f"/>
<rect x="398.6" y="108.1" width="1.8" height="3.4" fill="#f5841f"/>
<rect x="376.2" y="107.2" width="2.0" height="2.0" rx="0.6" fill="#f5841f"/>
<rect x="369.4" y="107.1" width="2.0" height="2.0" rx="0.6" fill="#f5841f"/>
<rect x="380.4" y="106.6" width="2.0" height="2.0" rx="0.6" fill="#f5841f"/>
<rect x="360.2" y="106.7" width="2.0" height="2.0" rx="0.6" fill="#f5841f"/>
<rect x="369.1" y="108.3" width="2.0" height="2.0" rx="0.6" fill="#f5841f"/>
<rect x="367.3" y="107.3" width="1.8" height="4.2" fill="#f5841f"/>
<rect x="372.0" y="109.4" width="2.0" height="2.0" rx="0.6" fill="#f5841f"/>
<rect x="401.2" y="109.3" width="2.0" height="2.0" rx="0.6" fill="#f5841f"/>
<rect x="406.6" y="109.4" width="2.0" height="2.0" rx="0.6" fill="#f5841f"/>
<rect x="359.8" y="107.2" width="1.8" height="4.3" fill="#f5841f"/>
<rect x="390.4" y="107.5" width="1.8" height="4.0" fill="#f5841f"/>
<rect x="404.3" y="107.1" width="1.8" height="4.4" fill="#f5841f"/>
<rect x="370.7" y="108.3" width="1.8" height="3.2" fill="#f5841f"/>
<rect x="388.2" y="107.1" width="1.8" height="4.4" fill="#f5841f"/>
<rect x="318.2" y="117.0" width="1.9" height="6.6" fill="#f5841f"/>
<rect x="330.0" y="117.0" width="2.1" height="2.1" rx="0.6" fill="#f5841f"/>
<rect x="330.1" y="118.8" width="2.1" height="2.1" rx="0.6" fill="#f5841f"/>
<rect x="330.2" y="120.5" width="2.1" height="2.1" rx="0.6" fill="#f5841f"/>
<rect x="348.6" y="118.8" width="2.1" height="2.1" rx="0.6" fill="#f5841f"/>
<rect x="348.7" y="122.3" width="2.1" height="2.1" rx="0.6" fill="#f5841f"/>
<rect x="348.6" y="124.1" width="2.1" height="2.1" rx="0.6" fill="#f5841f"/>
<rect x="354.9" y="117.0" width="1.9" height="6.1" fill="#f5841f"/>
<rect x="362.3" y="117.0" width="1.9" height="2.3" fill="#f5841f"/>
<rect x="297.9" y="117.0" width="2.1" height="2.1" rx="0.6" fill="#f5841f"/>
<rect x="298.1" y="118.8" width="2.1" height="2.1" rx="0.6" fill="#f5841f"/>
<rect x="326.8" y="117.0" width="2.1" height="2.1" rx="0.6" fill="#f5841f"/>
<rect x="326.9" y="118.8" width="2.1" height="2.1" rx="0.6" fill="#f5841f"/>
<rect x="299.2" y="117.0" width="2.1" height="2.1" rx="0.6" fill="#f5841f"/>
<rect x="299.2" y="118.8" width="2.1" height="2.1" rx="0.6" fill="#f5841f"/>
<rect x="299.7" y="120.5" width="2.1" height="2.1" rx="0.6" fill="#f5841f"/>
<rect x="299.7" y="122.3" width="2.1" height="2.1" rx="0.6" fill="#f5841f"/>
<rect x="299.3" y="124.1" width="2.1" height="2.1" rx="0.6" fill="#f5841f"/>
<rect x="296.3" y="118.8" width="2.1" height="2.1" rx="0.6" fill="#f5841f"/>
<rect x="296.2" y="120.5" width="2.1" height="2.1" rx="0.6" fill="#f5841f"/>
<rect x="296.4" y="122.3" width="2.1" height="2.1" rx="0.6" fill="#f5841f"/>
<rect x="285.9" y="117.0" width="2.1" height="2.1" rx="0.6" fill="#f5841f"/>
<rect x="330.2" y="117.0" width="1.9" height="12.9" fill="#f5841f"/>
<rect x="301.3" y="117.0" width="1.9" height="10.5" fill="#f5841f"/>
<rect x="355.9" y="117.0" width="2.1" height="2.1" rx="0.6" fill="#f5841f"/>
<rect x="355.9" y="120.5" width="2.1" height="2.1" rx="0.6" fill="#f5841f"/>
<rect x="356.0" y="122.3" width="2.1" height="2.1" rx="0.6" fill="#f5841f"/>
<rect x="356.0" y="124.1" width="2.1" height="2.1" rx="0.6" fill="#f5841f"/>
<rect x="362.1" y="117.0" width="1.9" height="9.7" fill="#f5841f"/>
<rect x="313.9" y="117.0" width="2.1" height="2.1" rx="0.6" fill="#f5841f"/>
<rect x="314.4" y="118.8" width="2.1" height="2.1" rx="0.6" fill="#f5841f"/>
<rect x="314.2" y="120.5" width="2.1" height="2.1" rx="0.6" fill="#f5841f"/>
<rect x="313.9" y="122.3" width="2.1" height="2.1" rx="0.6" fill="#f5841f"/>
<rect x="314.1" y="125.9" width="2.1" height="2.1" rx="0.6" fill="#f5841f"/>
<rect x="354.8" y="117.0" width="1.9" height="4.3" fill="#f5841f"/>
<rect x="309.4" y="117.0" width="1.9" height="3.4" fill="#f5841f"/>
<rect x="332.8" y="117.0" width="2.1" height="2.1" rx="0.6" fill="#f5841f"/>
<rect x="333.0" y="118.8" width="2.1" height="2.1" rx="0.6" fill="#f5841f"/>
<rect x="332.6" y="120.5" width="2.1" height="2.1" rx="0.6" fill="#f5841f"/>
<rect x="316.3" y="117.0" width="1.9" height="13.6" fill="#f5841f"/>
<rect x="308.3" y="117.0" width="1.9" height="8.3" fill="#f5841f"/>
<rect x="356.2" y="117.0" width="1.9" height="7.1" fill="#f5841f"/>
<rect x="366.0" y="117.0" width="1.9" height="6.2" fill="#f5841f"/>
<rect x="336.1" y="117.0" width="1.9" height="13.4" fill="#f5841f"/>
<rect x="285.2" y="117.0" width="1.9" height="5.2" fill="#f5841f"/>
<rect x="328.7" y="120.5" width="2.1" height="2.1" rx="0.6" fill="#f5841f"/>
<rect x="328.7" y="122.3" width="2.1" height="2.1" rx="0.6" fill="#f5841f"/>
<rect x="299.2" y="117.0" width="2.1" height="2.1" rx="0.6" fill="#f5841f"/>
<rect x="299.3" y="118.8" width="2.1" height="2.1" rx="0.6" fill="#f5841f"/>
<rect x="298.8" y="120.5" width="2.1" height="2.1" rx="0.6" fill="#f5841f"/>
<rect x="298.9" y="122.3" width="2.1" height="2.1" rx="0.6" fill="#f5841f"/>
<rect x="285.6" y="117.0" width="2.1" height="2.1" rx="0.6" fill="#f5841f"/>
<rect x="285.3" y="118.8" width="2.1" height="2.1" rx="0.6" fill="#f5841f"/>
<rect x="285.7" y="120.5" width="2.1" height="2.1" rx="0.6" fill="#f5841f"/>
<rect x="285.3" y="122.3" width="2.1" height="2.1" rx="0.6" fill="#f5841f"/>
<rect x="285.6" y="124.1" width="2.1" height="2.1" rx="0.6" fill="#f5841f"/>
<rect x="285.5" y="125.9" width="2.1" height="2.1" rx="0.6" fill="#f5841f"/>
<rect x="285.8" y="127.7" width="2.1" height="2.1" rx="0.6" fill="#f5841f"/>
<rect x="313.5" y="118.8" width="2.1" height="2.1" rx="0.6" fill="#f5841f"/>
<rect x="313.5" y="120.5" width="2.1" height="2.1" rx="0.6" fill="#f5841f"/>
<rect x="313.6" y="122.3" width="2.1" height="2.1" rx="0.6" fill="#f5841f"/>
<rect x="313.4" y="124.1" width="2.1" height="2.1" rx="0.6" fill="#f5841f"/>
<rect x="358.5" y="120.5" width="2.1" height="2.1" rx="0.6" fill="#f5841f"/>
<rect x="358.7" y="122.3" width="2.1" height="2.1" rx="0.6" fill="#f5841f"/>
<rect x="358.6" y="124.1" width="2.1" height="2.1" rx="0.6" fill="#f5841f"/>
<rect x="338.7" y="117.0" width="2.1" height="2.1" rx="0.6" fill="#f5841f"/>
<rect x="339.0" y="118.8" width="2.1" height="2.1" rx="0.6" fill="#f5841f"/>
<rect x="339.3" y="120.5" width="2.1" height="2.1" rx="0.6" fill="#f5841f"/>
<rect x="339.3" y="122.3" width="2.1" height="2.1" rx="0.6" fill="#f5841f"/>
<rect x="286.6" y="117.0" width="1.9" height="6.2" fill="#f5841f"/>
<rect x="294.2" y="117.0" width="1.9" height="9.3" fill="#f5841f"/>
<rect x="336.0" y="117.0" width="1.9" height="7.2" fill="#f5841f"/>
<rect x="366.4" y="117.0" width="2.1" height="2.1" rx="0.6" fill="#f5841f"/>
<rect x="347.4" y="117.0" width="1.9" height="9.1" fill="#f5841f"/>
<rect x="324.2" y="117.0" width="1.9" height="10.2" fill="#f5841f"/>
<rect x="288.0" y="108.5" width="47.0" height="10.5" fill="#f5841f"/>
<rect x="440.4" y="117.0" width="2.0" height="4.1" fill="#f5841f"/>
<rect x="398.8" y="117.0" width="2.0" height="4.2" fill="#f5841f"/>
<rect x="442.4" y="117.0" width="2.0" height="3.7" fill="#f5841f"/>
<rect x="425.1" y="117.0" width="2.0" height="4.1" fill="#f5841f"/>
<rect x="414.3" y="117.0" width="2.0" height="2.7" fill="#f5841f"/>
<rect x="407.7" y="117.0" width="2.0" height="4.4" fill="#f5841f"/>
<rect x="437.8" y="117.0" width="2.0" height="2.7" fill="#f5841f"/>
<rect x="437.9" y="110.3" width="2.0" height="1.7" fill="#f5841f"/>
<rect x="440.6" y="108.9" width="2.0" height="3.1" fill="#f5841f"/>
<rect x="446.3" y="110.6" width="2.0" height="1.4" fill="#f5841f"/>
<rect x="440.8" y="111.3" width="2.0" height="0.7" fill="#f5841f"/>
<rect x="442.9" y="108.5" width="2.0" height="3.5" fill="#f5841f"/>
<rect x="428.2" y="110.6" width="2.0" height="1.4" fill="#f5841f"/>
<rect x="418.0" y="111.4" width="2.0" height="0.6" fill="#f5841f"/>
<rect x="449.0" y="110.8" width="2.0" height="1.2" fill="#f5841f"/>
<rect x="422.5" y="108.5" width="2.0" height="3.5" fill="#f5841f"/>
<rect x="457.7" y="110.0" width="2.0" height="2.0" fill="#f5841f"/>
<rect x="436.1" y="110.1" width="2.0" height="1.9" fill="#f5841f"/>
<rect x="452.4" y="109.6" width="2.0" height="2.4" fill="#f5841f"/>
<rect x="452.6" y="109.0" width="2.0" height="3.0" fill="#f5841f"/>
<rect x="463.0" y="110.6" width="2.0" height="1.4" fill="#f5841f"/>
<rect x="339.9" y="120.7" width="2.0" height="2.0" rx="0.6" fill="#ee8a2e"/>
<rect x="417.9" y="120.6" width="2.0" height="2.0" rx="0.6" fill="#ee8a2e"/>
<rect x="452.4" y="125.4" width="2.0" height="2.0" rx="0.6" fill="#ee8a2e"/>
<rect x="425.5" y="122.8" width="2.0" height="2.0" rx="0.6" fill="#ee8a2e"/>
<rect x="436.5" y="121.2" width="2.0" height="2.0" rx="0.6" fill="#ee8a2e"/>
<rect x="407.4" y="122.1" width="2.0" height="2.0" rx="0.6" fill="#ee8a2e"/>
<rect x="392.8" y="126.2" width="2.0" height="2.0" rx="0.6" fill="#ee8a2e"/>
<rect x="357.2" y="124.8" width="2.0" height="2.0" rx="0.6" fill="#ee8a2e"/>
<rect x="428.6" y="120.1" width="2.0" height="2.0" rx="0.6" fill="#ee8a2e"/>
<rect x="458.1" y="122.6" width="2.0" height="2.0" rx="0.6" fill="#ee8a2e"/>
<rect x="399.7" y="121.6" width="2.0" height="2.0" rx="0.6" fill="#ee8a2e"/>
<rect x="401.4" y="126.2" width="2.0" height="2.0" rx="0.6" fill="#ee8a2e"/>
<rect x="374.4" y="124.6" width="2.0" height="2.0" rx="0.6" fill="#ee8a2e"/>
<rect x="431.0" y="125.6" width="2.0" height="2.0" rx="0.6" fill="#ee8a2e"/>
<rect x="418.8" y="122.5" width="2.0" height="2.0" rx="0.6" fill="#ee8a2e"/>
<rect x="373.1" y="122.2" width="2.0" height="2.0" rx="0.6" fill="#ee8a2e"/>
<rect x="377.6" y="125.7" width="2.0" height="2.0" rx="0.6" fill="#ee8a2e"/>
<rect x="436.7" y="121.0" width="2.0" height="2.0" rx="0.6" fill="#ee8a2e"/>
<rect x="363.5" y="119.8" width="2.0" height="2.0" rx="0.6" fill="#ee8a2e"/>
<rect x="450.1" y="119.9" width="2.0" height="2.0" rx="0.6" fill="#ee8a2e"/>
<rect x="379.8" y="120.8" width="2.0" height="2.0" rx="0.6" fill="#ee8a2e"/>
<rect x="354.6" y="126.1" width="2.0" height="2.0" rx="0.6" fill="#ee8a2e"/>
<rect x="260.9" y="100.7" width="2.2" height="2.2" rx="0.6" fill="#ee8a2e"/>
<rect x="283.9" y="101.3" width="2.2" height="2.2" rx="0.6" fill="#ee8a2e"/>
<rect x="220.2" y="97.4" width="2.2" height="2.2" rx="0.6" fill="#ee8a2e"/>
<rect x="260.9" y="121.4" width="2.2" height="2.2" rx="0.6" fill="#ee8a2e"/>
<rect x="270.3" y="122.5" width="2.2" height="2.2" rx="0.6" fill="#ee8a2e"/>
<rect x="271.3" y="123.6" width="2.2" height="2.2" rx="0.6" fill="#ee8a2e"/>
<rect x="269.7" y="129.1" width="2.2" height="2.2" rx="0.6" fill="#ee8a2e"/>
<rect x="377.5" y="122.5" width="2.2" height="2.2" rx="0.6" fill="#ee8a2e"/>
<rect x="389.9" y="108.9" width="2.2" height="2.2" rx="0.6" fill="#ee8a2e"/>
<rect x="392.4" y="118.9" width="2.2" height="2.2" rx="0.6" fill="#ee8a2e"/>
<rect x="400.9" y="122.1" width="2.2" height="2.2" rx="0.6" fill="#ee8a2e"/>
<rect x="420.9" y="127.5" width="2.2" height="2.2" rx="0.6" fill="#ee8a2e"/>
<rect x="425.6" y="120.5" width="2.2" height="2.2" rx="0.6" fill="#ee8a2e"/>
<rect x="444.2" y="124.4" width="2.2" height="2.2" rx="0.6" fill="#ee8a2e"/>
<rect x="446.5" y="125.9" width="2.2" height="2.2" rx="0.6" fill="#ee8a2e"/>
<rect x="458.1" y="125.2" width="2.2" height="2.2" rx="0.6" fill="#ee8a2e"/>
<rect x="417.1" y="105.9" width="2.2" height="2.2" rx="0.6" fill="#ee8a2e"/>
<rect x="456.5" y="106.6" width="2.2" height="2.2" rx="0.6" fill="#ee8a2e"/>
<rect x="450.3" y="106.2" width="2.2" height="2.2" rx="0.6" fill="#ee8a2e"/>
<rect x="365.7" y="125.4" width="2.2" height="2.2" rx="0.6" fill="#ee8a2e"/>
<rect x="371.4" y="118.4" width="2.2" height="2.2" rx="0.6" fill="#ee8a2e"/>
<rect x="377.9" y="122.9" width="2.2" height="2.2" rx="0.6" fill="#ee8a2e"/>
<rect x="357.9" y="130.9" width="2.2" height="2.2" rx="0.6" fill="#ee8a2e"/>
<rect x="351.9" y="130.9" width="2.2" height="2.2" rx="0.6" fill="#ee8a2e"/>
<rect x="351.9" y="127.9" width="2.2" height="2.2" rx="0.6" fill="#ee8a2e"/>
<rect x="339.9" y="126.9" width="2.2" height="2.2" rx="0.6" fill="#ee8a2e"/>
<rect x="344.9" y="129.9" width="2.2" height="2.2" rx="0.6" fill="#ee8a2e"/>
<rect x="205.6" y="119.6" width="1.8" height="8.2" fill="#ee8a2e"/>
<rect x="205.2" y="130.5" width="2.3" height="2.3" rx="0.6" fill="#ee8a2e"/>
<rect x="205.2" y="134.8" width="2.3" height="2.3" rx="0.6" fill="#ee8a2e"/>
<rect x="212.5" y="125.2" width="2.3" height="2.3" rx="0.6" fill="#ee8a2e"/>
<rect x="216.2" y="121.6" width="2.3" height="2.3" rx="0.6" fill="#ee8a2e"/>
<rect x="220.8" y="121.6" width="2.3" height="2.3" rx="0.6" fill="#ee8a2e"/>
<rect x="230.2" y="120.2" width="2.3" height="2.3" rx="0.6" fill="#ee8a2e"/>
<rect x="212.5" y="135.8" width="2.3" height="2.3" rx="0.6" fill="#ee8a2e"/>
<rect x="216.2" y="138.8" width="2.3" height="2.3" rx="0.6" fill="#ee8a2e"/>
<rect x="230.2" y="137.5" width="2.3" height="2.3" rx="0.6" fill="#ee8a2e"/>
<rect x="234.3" y="139.8" width="2.3" height="2.3" rx="0.6" fill="#ee8a2e"/>
<rect x="212.0" y="145.2" width="2.3" height="2.3" rx="0.6" fill="#ee8a2e"/>
<rect x="215.2" y="143.4" width="2.3" height="2.3" rx="0.6" fill="#ee8a2e"/>
<rect x="220.2" y="143.2" width="2.3" height="2.3" rx="0.6" fill="#ee8a2e"/>
<rect x="211.8" y="145.3" width="2.3" height="2.3" rx="0.6" fill="#ee8a2e"/>
<rect x="215.3" y="144.3" width="2.3" height="2.3" rx="0.6" fill="#ee8a2e"/>
<rect x="204.7" y="159.8" width="2.3" height="2.3" rx="0.6" fill="#ee8a2e"/>
<rect x="209.2" y="159.8" width="2.3" height="2.3" rx="0.6" fill="#ee8a2e"/>
<rect x="220.4" y="155.2" width="2.3" height="2.3" rx="0.6" fill="#ee8a2e"/>
<rect x="224.5" y="159.8" width="2.3" height="2.3" rx="0.6" fill="#ee8a2e"/>
<rect x="229.8" y="159.2" width="2.3" height="2.3" rx="0.6" fill="#ee8a2e"/>
<rect x="214.3" y="164.3" width="2.3" height="2.3" rx="0.6" fill="#ee8a2e"/>
<rect x="214.3" y="166.8" width="2.3" height="2.3" rx="0.6" fill="#ee8a2e"/>
<rect x="209.2" y="166.8" width="2.3" height="2.3" rx="0.6" fill="#ee8a2e"/>
<rect x="209.2" y="169.9" width="2.3" height="2.3" rx="0.6" fill="#ee8a2e"/>
<rect x="204.7" y="172.5" width="2.3" height="2.3" rx="0.6" fill="#ee8a2e"/>
<rect x="204.7" y="176.7" width="2.3" height="2.3" rx="0.6" fill="#ee8a2e"/>
<rect x="204.7" y="179.8" width="2.3" height="2.3" rx="0.6" fill="#ee8a2e"/>
<rect x="204.0" y="182.5" width="2.3" height="2.3" rx="0.6" fill="#ee8a2e"/>
<rect x="209.2" y="179.2" width="2.3" height="2.3" rx="0.6" fill="#ee8a2e"/>
<rect x="219.9" y="173.0" width="2.3" height="2.3" rx="0.6" fill="#ee8a2e"/>
<rect x="224.5" y="174.0" width="2.3" height="2.3" rx="0.6" fill="#ee8a2e"/>
<rect x="229.2" y="177.2" width="2.3" height="2.3" rx="0.6" fill="#ee8a2e"/>
<rect x="224.5" y="179.8" width="2.3" height="2.3" rx="0.6" fill="#ee8a2e"/>
<rect x="229.2" y="184.8" width="2.3" height="2.3" rx="0.6" fill="#ee8a2e"/>
<rect x="209.2" y="187.8" width="2.3" height="2.3" rx="0.6" fill="#ee8a2e"/>
<rect x="218.4" y="188.4" width="2.3" height="2.3" rx="0.6" fill="#ee8a2e"/>
<rect x="224.5" y="187.3" width="2.3" height="2.3" rx="0.6" fill="#ee8a2e"/>
<rect x="208.7" y="188.4" width="2.3" height="2.3" rx="0.6" fill="#ee8a2e"/>
<rect x="218.8" y="189.5" width="2.3" height="2.3" rx="0.6" fill="#ee8a2e"/>
<rect x="224.0" y="187.8" width="2.3" height="2.3" rx="0.6" fill="#ee8a2e"/>
<rect x="229.2" y="190.7" width="2.3" height="2.3" rx="0.6" fill="#ee8a2e"/>
<rect x="214.3" y="192.9" width="2.3" height="2.3" rx="0.6" fill="#ee8a2e"/>
<rect x="208.7" y="195.8" width="2.3" height="2.3" rx="0.6" fill="#ee8a2e"/>
<rect x="204.2" y="196.7" width="2.3" height="2.3" rx="0.6" fill="#ee8a2e"/>
<rect x="204.2" y="200.3" width="2.3" height="2.3" rx="0.6" fill="#ee8a2e"/>
<rect x="204.2" y="206.7" width="2.3" height="2.3" rx="0.6" fill="#ee8a2e"/>
<rect x="224.0" y="205.4" width="2.3" height="2.3" rx="0.6" fill="#ee8a2e"/>
<rect x="208.0" y="210.7" width="2.3" height="2.3" rx="0.6" fill="#ee8a2e"/>
<rect x="218.3" y="214.0" width="2.3" height="2.3" rx="0.6" fill="#ee8a2e"/>
<rect x="228.5" y="214.0" width="2.3" height="2.3" rx="0.6" fill="#ee8a2e"/>
<rect x="213.8" y="219.2" width="2.3" height="2.3" rx="0.6" fill="#ee8a2e"/>
<rect x="220.2" y="142.8" width="2.3" height="2.3" rx="0.6" fill="#ee8a2e"/>
<rect x="229.7" y="137.5" width="2.3" height="2.3" rx="0.6" fill="#ee8a2e"/>
<rect x="234.2" y="140.0" width="2.3" height="2.3" rx="0.6" fill="#ee8a2e"/>
<rect x="248.8" y="141.3" width="2.3" height="2.3" rx="0.6" fill="#ee8a2e"/>
<rect x="269.8" y="128.8" width="2.3" height="2.3" rx="0.6" fill="#ee8a2e"/>
<rect x="269.2" y="133.3" width="2.3" height="2.3" rx="0.6" fill="#ee8a2e"/>
<rect x="220.2" y="155.5" width="2.3" height="2.3" rx="0.6" fill="#ee8a2e"/>
<rect x="224.5" y="160.0" width="2.3" height="2.3" rx="0.6" fill="#ee8a2e"/>
<rect x="229.7" y="159.3" width="2.3" height="2.3" rx="0.6" fill="#ee8a2e"/>
<rect x="243.8" y="159.3" width="2.3" height="2.3" rx="0.6" fill="#ee8a2e"/>
<rect x="245.8" y="158.3" width="2.3" height="2.3" rx="0.6" fill="#ee8a2e"/>
<rect x="210.4" y="153.2" width="3.0" height="7.2" fill="#ee8a2e"/>
<rect x="206.5" y="218.2" width="2.8" height="2.8" rx="0.6" fill="#ee8a2e"/>
<rect x="205.1" y="220.6" width="2.4" height="2.4" rx="0.6" fill="#ee8a2e"/>
<rect x="208.5" y="217.8" width="2.0" height="2.0" rx="0.6" fill="#ee8a2e"/>
<line x1="204.6" y1="223.5" x2="204.6" y2="231.0" stroke="#bea224" stroke-width="4.4" stroke-linecap="round"/>
<line x1="206.0" y1="226.6" x2="224.0" y2="227.2" stroke="#c6a628" stroke-width="3.3" stroke-linecap="round"/>
<line x1="222.0" y1="227.3" x2="230.0" y2="227.6" stroke="#9cbc2a" stroke-width="3.0" stroke-linecap="round"/>
<circle cx="205.3" cy="232.8" r="1.1" fill="#6aa030"/>
<rect x="226.6" y="146.6" width="55.5" height="3.2" fill="#f5841f"/>
<rect x="257.4" y="146.0" width="2.0" height="2.0" rx="0.6" fill="#f5841f"/>
<rect x="241.3" y="146.0" width="2.0" height="2.0" rx="0.6" fill="#f5841f"/>
<rect x="276.0" y="145.0" width="2.0" height="2.0" rx="0.6" fill="#f5841f"/>
<rect x="259.9" y="145.7" width="2.0" height="2.0" rx="0.6" fill="#f5841f"/>
<rect x="255.1" y="145.6" width="2.0" height="2.0" rx="0.6" fill="#f5841f"/>
<rect x="261.0" y="145.3" width="2.0" height="2.0" rx="0.6" fill="#f5841f"/>
<rect x="253.3" y="144.7" width="2.0" height="2.0" rx="0.6" fill="#f5841f"/>
<rect x="266.5" y="145.5" width="2.0" height="2.0" rx="0.6" fill="#f5841f"/>
<rect x="277.0" y="145.8" width="2.0" height="2.0" rx="0.6" fill="#f5841f"/>
<rect x="232.4" y="144.7" width="2.0" height="2.0" rx="0.6" fill="#f5841f"/>
<rect x="241.6" y="145.1" width="2.0" height="2.0" rx="0.6" fill="#f5841f"/>
<rect x="267.2" y="144.9" width="2.0" height="2.0" rx="0.6" fill="#f5841f"/>
<rect x="239.3" y="144.4" width="2.0" height="2.0" rx="0.6" fill="#f5841f"/>
<rect x="254.9" y="145.3" width="2.0" height="2.0" rx="0.6" fill="#f5841f"/>
<rect x="236.2" y="144.0" width="2.0" height="2.0" rx="0.6" fill="#f5841f"/>
<rect x="274.0" y="146.2" width="2.0" height="2.0" rx="0.6" fill="#f5841f"/>
<rect x="232.8" y="144.1" width="2.0" height="2.0" rx="0.6" fill="#f5841f"/>
<rect x="243.4" y="143.9" width="2.0" height="2.0" rx="0.6" fill="#f5841f"/>
<rect x="237.2" y="145.0" width="2.0" height="2.0" rx="0.6" fill="#f5841f"/>
<rect x="251.2" y="145.6" width="2.0" height="2.0" rx="0.6" fill="#f5841f"/>
<rect x="255.6" y="146.3" width="2.0" height="2.0" rx="0.6" fill="#f5841f"/>
<rect x="229.9" y="145.7" width="2.0" height="2.0" rx="0.6" fill="#f5841f"/>
<rect x="268.9" y="144.8" width="2.0" height="2.0" rx="0.6" fill="#f5841f"/>
<rect x="226.8" y="145.8" width="2.0" height="2.0" rx="0.6" fill="#f5841f"/>
<rect x="243.3" y="146.6" width="2.0" height="2.0" rx="0.6" fill="#f5841f"/>
<rect x="235.0" y="145.7" width="2.0" height="2.0" rx="0.6" fill="#f5841f"/>
<rect x="227.8" y="144.8" width="2.0" height="2.0" rx="0.6" fill="#f5841f"/>
<rect x="266.1" y="145.6" width="2.0" height="2.0" rx="0.6" fill="#f5841f"/>
<rect x="253.9" y="145.2" width="2.0" height="2.0" rx="0.6" fill="#f5841f"/>
<rect x="278.9" y="144.9" width="2.0" height="2.0" rx="0.6" fill="#f5841f"/>
<rect x="247.8" y="146.4" width="2.0" height="2.0" rx="0.6" fill="#f5841f"/>
<rect x="231.8" y="145.0" width="2.0" height="2.0" rx="0.6" fill="#f5841f"/>
<rect x="260.2" y="145.2" width="2.0" height="2.0" rx="0.6" fill="#f5841f"/>
<rect x="267.8" y="146.7" width="2.0" height="2.0" rx="0.6" fill="#f5841f"/>
<rect x="249.9" y="146.4" width="2.0" height="2.0" rx="0.6" fill="#f5841f"/>
<rect x="273.8" y="146.3" width="2.0" height="2.0" rx="0.6" fill="#f5841f"/>
<rect x="254.1" y="146.5" width="2.0" height="2.0" rx="0.6" fill="#f5841f"/>
<rect x="265.7" y="144.3" width="2.0" height="2.0" rx="0.6" fill="#f5841f"/>
<rect x="240.9" y="145.9" width="2.0" height="2.0" rx="0.6" fill="#f5841f"/>
<rect x="236.9" y="145.0" width="2.0" height="2.0" rx="0.6" fill="#f5841f"/>
<rect x="229.9" y="146.6" width="2.0" height="2.0" rx="0.6" fill="#f5841f"/>
<rect x="257.6" y="146.8" width="2.0" height="2.0" rx="0.6" fill="#f5841f"/>
<rect x="226.4" y="146.7" width="2.0" height="2.0" rx="0.6" fill="#f5841f"/>
<rect x="276.4" y="145.6" width="2.0" height="2.0" rx="0.6" fill="#f5841f"/>
<rect x="228.2" y="144.6" width="2.0" height="2.0" rx="0.6" fill="#f5841f"/>
<rect x="269.5" y="144.3" width="2.0" height="2.0" rx="0.6" fill="#f5841f"/>
<rect x="246.2" y="146.4" width="2.0" height="2.0" rx="0.6" fill="#f5841f"/>
<rect x="273.7" y="146.7" width="2.0" height="2.0" rx="0.6" fill="#f5841f"/>
<rect x="272.0" y="143.8" width="2.0" height="2.0" rx="0.6" fill="#f5841f"/>
<rect x="273.4" y="146.0" width="2.0" height="2.0" rx="0.6" fill="#f5841f"/>
<rect x="233.1" y="145.3" width="2.0" height="2.0" rx="0.6" fill="#f5841f"/>
<rect x="253.3" y="144.8" width="2.0" height="2.0" rx="0.6" fill="#f5841f"/>
<rect x="230.5" y="144.2" width="2.0" height="2.0" rx="0.6" fill="#f5841f"/>
<rect x="231.5" y="144.7" width="2.0" height="2.0" rx="0.6" fill="#f5841f"/>
<rect x="270.0" y="145.8" width="2.0" height="2.0" rx="0.6" fill="#f5841f"/>
<rect x="261.2" y="144.3" width="2.0" height="2.0" rx="0.6" fill="#f5841f"/>
<rect x="230.3" y="145.3" width="2.0" height="2.0" rx="0.6" fill="#f5841f"/>
<rect x="239.9" y="145.3" width="2.0" height="2.0" rx="0.6" fill="#f5841f"/>
<rect x="226.5" y="145.6" width="2.0" height="2.0" rx="0.6" fill="#f5841f"/>
<rect x="241.5" y="145.4" width="2.0" height="2.0" rx="0.6" fill="#f5841f"/>
<rect x="228.3" y="145.0" width="2.0" height="2.0" rx="0.6" fill="#f5841f"/>
<rect x="245.0" y="144.9" width="2.0" height="2.0" rx="0.6" fill="#f5841f"/>
<rect x="261.5" y="146.7" width="2.0" height="2.0" rx="0.6" fill="#f5841f"/>
<rect x="270.5" y="143.9" width="2.0" height="2.0" rx="0.6" fill="#f5841f"/>
<rect x="269.7" y="145.7" width="2.0" height="2.0" rx="0.6" fill="#f5841f"/>
<rect x="247.2" y="145.7" width="2.0" height="2.0" rx="0.6" fill="#f5841f"/>
<rect x="260.3" y="144.2" width="2.0" height="2.0" rx="0.6" fill="#f5841f"/>
<rect x="274.6" y="145.5" width="2.0" height="2.0" rx="0.6" fill="#f5841f"/>
<rect x="241.6" y="146.2" width="2.0" height="2.0" rx="0.6" fill="#f5841f"/>
<rect x="260.5" y="145.1" width="2.0" height="2.0" rx="0.6" fill="#f5841f"/>
<line x1="199.1" y1="151.8" x2="211.9" y2="151.8" stroke="#1c2ad2" stroke-width="2.5" stroke-linecap="butt"/>
<line x1="216.0" y1="151.8" x2="302.4" y2="151.8" stroke="#1c2ad2" stroke-width="2.5" stroke-linecap="butt"/>
<rect x="301.0" y="149.8" width="2.0" height="5.7" fill="#1c2ad2"/>
<circle cx="236.0" cy="153.3" r="1.1" fill="#1c2ad2"/>
<circle cx="254.0" cy="153.3" r="1.1" fill="#1c2ad2"/>
<circle cx="292.0" cy="153.3" r="1.1" fill="#1c2ad2"/>
<polygon points="308.0,146.0 310.0,145.5 312.0,147.0 314.0,149.5 314.2,157.0 312.0,158.8 309.5,158.8 308.0,156.0" fill="#1c2ad2"/>
<rect x="307.3" y="144.3" width="2.4" height="2.4" rx="0.6" fill="#1c2ad2"/>
<rect x="307.3" y="146.8" width="2.4" height="2.4" rx="0.6" fill="#1c2ad2"/>
<rect x="307.1" y="149.3" width="2.4" height="2.4" rx="0.6" fill="#1c2ad2"/>
<rect x="307.3" y="151.8" width="2.4" height="2.4" rx="0.6" fill="#1c2ad2"/>
<rect x="307.6" y="154.3" width="2.4" height="2.4" rx="0.6" fill="#1c2ad2"/>
<rect x="307.8" y="156.8" width="2.4" height="2.4" rx="0.6" fill="#1c2ad2"/>
<rect x="309.6" y="148.3" width="2.4" height="2.4" rx="0.6" fill="#1c2ad2"/>
<rect x="309.8" y="150.8" width="2.4" height="2.4" rx="0.6" fill="#1c2ad2"/>
<rect x="309.8" y="153.3" width="2.4" height="2.4" rx="0.6" fill="#1c2ad2"/>
<rect x="309.6" y="156.3" width="2.4" height="2.4" rx="0.6" fill="#1c2ad2"/>
<rect x="311.8" y="148.8" width="2.4" height="2.4" rx="0.6" fill="#1c2ad2"/>
<rect x="312.1" y="151.3" width="2.4" height="2.4" rx="0.6" fill="#1c2ad2"/>
<rect x="311.8" y="153.8" width="2.4" height="2.4" rx="0.6" fill="#1c2ad2"/>
<rect x="312.3" y="156.6" width="2.4" height="2.4" rx="0.6" fill="#1c2ad2"/>
<rect x="310.3" y="145.8" width="2.4" height="2.4" rx="0.6" fill="#1c2ad2"/>
<rect x="311.3" y="157.3" width="2.4" height="2.4" rx="0.6" fill="#1c2ad2"/>
<circle cx="339.2" cy="152.4" r="1.6" fill="#1c2ad2"/>
<line x1="228.8" y1="105.5" x2="232.7" y2="105.5" stroke="#2b1045" stroke-width="2.2" stroke-linecap="butt"/>
<line x1="237.0" y1="105.5" x2="497.9" y2="105.3" stroke="#2b1045" stroke-width="2.2" stroke-linecap="butt"/>
<line x1="354.0" y1="102.1" x2="428.5" y2="102.1" stroke="#f0159b" stroke-width="2.4" stroke-linecap="butt"/>
<line x1="427.7" y1="97.4" x2="469.0" y2="97.4" stroke="#f0159b" stroke-width="2.7" stroke-linecap="butt"/>
<line x1="471.0" y1="97.4" x2="492.2" y2="97.4" stroke="#f0159b" stroke-width="2.7" stroke-linecap="butt"/>
<line x1="441.3" y1="103.0" x2="492.2" y2="103.0" stroke="#1c2ad2" stroke-width="2.8" stroke-linecap="butt"/>
<circle cx="479.4" cy="108.5" r="1.2" fill="#1c2ad2"/>
<circle cx="496.0" cy="128.0" r="1.2" fill="#202020"/>
<circle cx="496.9" cy="161.3" r="1.1" fill="#202020"/>
<polygon points="275.5,187.0 278.0,187.5 278.2,204.5 276.0,205.5" fill="#1e1ecc"/>
<rect x="275.1" y="185.3" width="2.4" height="2.4" rx="0.6" fill="#1e1ecc"/>
<rect x="277.0" y="187.3" width="2.4" height="2.4" rx="0.6" fill="#1e1ecc"/>
<rect x="274.3" y="188.3" width="2.4" height="2.4" rx="0.6" fill="#1e1ecc"/>
<rect x="276.3" y="190.3" width="2.4" height="2.4" rx="0.6" fill="#1e1ecc"/>
<rect x="274.6" y="192.3" width="2.4" height="2.4" rx="0.6" fill="#1e1ecc"/>
<rect x="277.1" y="193.8" width="2.4" height="2.4" rx="0.6" fill="#1e1ecc"/>
<rect x="274.8" y="195.8" width="2.4" height="2.4" rx="0.6" fill="#1e1ecc"/>
<rect x="276.6" y="197.8" width="2.4" height="2.4" rx="0.6" fill="#1e1ecc"/>
<rect x="274.4" y="199.8" width="2.4" height="2.4" rx="0.6" fill="#1e1ecc"/>
<rect x="276.3" y="201.8" width="2.4" height="2.4" rx="0.6" fill="#1e1ecc"/>
<rect x="275.1" y="204.3" width="2.4" height="2.4" rx="0.6" fill="#1e1ecc"/>
<rect x="277.3" y="204.8" width="2.4" height="2.4" rx="0.6" fill="#1e1ecc"/>
<polygon points="288.0,188.6 289.0,189.3 290.0,190.0 291.0,190.9 292.0,191.9 293.0,192.8 294.0,193.5 295.0,193.7 296.0,193.8 297.0,193.9 298.0,194.0 299.0,194.1 300.0,194.2 301.0,194.2 302.0,194.3 303.0,194.4 304.0,194.5 305.0,195.3 306.0,196.1 307.0,196.9 308.0,197.7 309.0,198.1 310.0,198.6 311.0,199.1 312.0,199.5 313.0,199.8 314.0,200.0 315.0,200.2 316.0,200.5 317.0,200.8 318.0,201.0 319.0,201.8 320.0,202.6 321.0,203.4 322.0,204.2 323.0,205.0 324.0,205.5 325.0,206.0 326.0,206.5 327.0,207.0 328.0,207.5 329.0,208.0 330.0,208.5 331.0,209.1 332.0,209.7 333.0,210.3 334.0,210.9 335.0,211.5 336.0,212.9 337.0,214.3 337.0,225.3 336.0,224.9 335.0,224.5 334.0,223.9 333.0,223.3 332.0,222.7 331.0,222.1 330.0,221.5 329.0,221.0 328.0,220.6 327.0,220.1 326.0,219.7 325.0,219.2 324.0,218.8 323.0,218.3 322.0,217.8 321.0,217.2 320.0,216.7 319.0,216.2 318.0,215.6 317.0,215.1 316.0,214.5 315.0,214.0 314.0,213.3 313.0,212.6 312.0,211.9 311.0,211.1 310.0,210.4 309.0,209.7 308.0,209.0 307.0,208.8 306.0,208.6 305.0,208.4 304.0,208.2 303.0,208.0 302.0,207.8 301.0,207.6 300.0,207.4 299.0,207.2 298.0,207.0 297.0,206.9 296.0,206.7 295.0,206.5 294.0,207.0 293.0,207.5 292.0,208.0 291.0,208.5 290.0,209.0 289.0,209.2 288.0,209.4" fill="#1e1ecc"/>
<rect x="286.6" y="183.6" width="1.9" height="29.8" rx="0.6" fill="#1e1ecc"/>
<rect x="288.7" y="186.6" width="2.0" height="24.2" rx="0.6" fill="#1e1ecc"/>
<rect x="291.0" y="190.0" width="1.8" height="21.2" rx="0.6" fill="#1e1ecc"/>
<rect x="293.2" y="189.3" width="1.7" height="18.6" rx="0.6" fill="#1e1ecc"/>
<rect x="295.3" y="191.1" width="2.0" height="16.8" rx="0.6" fill="#1e1ecc"/>
<rect x="297.7" y="189.7" width="1.5" height="19.3" rx="0.6" fill="#1e1ecc"/>
<rect x="299.7" y="193.4" width="2.0" height="18.4" rx="0.6" fill="#1e1ecc"/>
<rect x="302.1" y="191.8" width="1.7" height="17.2" rx="0.6" fill="#1e1ecc"/>
<rect x="304.1" y="192.3" width="2.1" height="17.5" rx="0.6" fill="#1e1ecc"/>
<rect x="306.3" y="193.4" width="2.0" height="17.0" rx="0.6" fill="#1e1ecc"/>
<rect x="308.6" y="193.6" width="1.8" height="21.5" rx="0.6" fill="#1e1ecc"/>
<rect x="310.8" y="196.5" width="1.8" height="17.5" rx="0.6" fill="#1e1ecc"/>
<rect x="312.9" y="195.5" width="2.0" height="18.8" rx="0.6" fill="#1e1ecc"/>
<rect x="315.3" y="196.2" width="1.6" height="22.7" rx="0.6" fill="#1e1ecc"/>
<rect x="317.3" y="200.2" width="2.0" height="20.4" rx="0.6" fill="#1e1ecc"/>
<rect x="319.5" y="201.1" width="1.9" height="19.3" rx="0.6" fill="#1e1ecc"/>
<rect x="321.7" y="200.0" width="2.0" height="21.2" rx="0.6" fill="#1e1ecc"/>
<rect x="323.9" y="201.5" width="2.0" height="22.7" rx="0.6" fill="#1e1ecc"/>
<rect x="326.2" y="203.5" width="1.8" height="19.1" rx="0.6" fill="#1e1ecc"/>
<rect x="328.4" y="204.5" width="1.7" height="22.0" rx="0.6" fill="#1e1ecc"/>
<rect x="330.5" y="204.2" width="1.9" height="19.5" rx="0.6" fill="#1e1ecc"/>
<rect x="332.8" y="209.8" width="1.8" height="17.0" rx="0.6" fill="#1e1ecc"/>
<rect x="335.1" y="209.9" width="1.6" height="19.2" rx="0.6" fill="#1e1ecc"/>
<polygon points="344.5,220.0 348.5,218.5 348.8,237.5 345.0,237.0" fill="#1e1ecc"/>
<rect x="344.9" y="227.5" width="2.3" height="2.3" rx="0.6" fill="#1e1ecc"/>
<rect x="347.8" y="218.8" width="2.3" height="2.3" rx="0.6" fill="#1e1ecc"/>
<rect x="343.3" y="226.8" width="2.3" height="2.3" rx="0.6" fill="#1e1ecc"/>
<rect x="344.7" y="224.2" width="2.3" height="2.3" rx="0.6" fill="#1e1ecc"/>
<rect x="346.7" y="222.4" width="2.3" height="2.3" rx="0.6" fill="#1e1ecc"/>
<rect x="342.8" y="234.6" width="2.3" height="2.3" rx="0.6" fill="#1e1ecc"/>
<rect x="346.2" y="217.3" width="2.3" height="2.3" rx="0.6" fill="#1e1ecc"/>
<rect x="346.3" y="237.6" width="2.3" height="2.3" rx="0.6" fill="#1e1ecc"/>
<rect x="342.6" y="223.8" width="2.3" height="2.3" rx="0.6" fill="#1e1ecc"/>
<rect x="345.4" y="236.4" width="2.3" height="2.3" rx="0.6" fill="#1e1ecc"/>
<rect x="343.5" y="220.8" width="2.3" height="2.3" rx="0.6" fill="#1e1ecc"/>
<rect x="346.6" y="234.0" width="2.3" height="2.3" rx="0.6" fill="#1e1ecc"/>
<rect x="345.1" y="215.5" width="2.3" height="2.3" rx="0.6" fill="#1e1ecc"/>
<rect x="346.8" y="232.1" width="2.3" height="2.3" rx="0.6" fill="#1e1ecc"/>
<rect x="346.5" y="222.4" width="2.3" height="2.3" rx="0.6" fill="#1e1ecc"/>
<rect x="347.6" y="229.6" width="2.3" height="2.3" rx="0.6" fill="#1e1ecc"/>
<rect x="346.1" y="227.5" width="2.3" height="2.3" rx="0.6" fill="#1e1ecc"/>
<rect x="343.8" y="225.4" width="2.3" height="2.3" rx="0.6" fill="#1e1ecc"/>
<rect x="347.4" y="230.9" width="2.3" height="2.3" rx="0.6" fill="#1e1ecc"/>
<rect x="344.5" y="234.1" width="2.3" height="2.3" rx="0.6" fill="#1e1ecc"/>
<rect x="347.6" y="215.7" width="2.3" height="2.3" rx="0.6" fill="#1e1ecc"/>
<rect x="343.3" y="219.9" width="2.3" height="2.3" rx="0.6" fill="#1e1ecc"/>
<rect x="346.4" y="227.5" width="2.3" height="2.3" rx="0.6" fill="#1e1ecc"/>
<rect x="343.6" y="217.3" width="2.3" height="2.3" rx="0.6" fill="#1e1ecc"/>
<rect x="344.5" y="234.5" width="2.3" height="2.3" rx="0.6" fill="#1e1ecc"/>
<rect x="346.2" y="216.1" width="2.3" height="2.3" rx="0.6" fill="#1e1ecc"/>
<rect x="345.1" y="215.8" width="2.3" height="2.3" rx="0.6" fill="#1e1ecc"/>
<rect x="346.3" y="217.6" width="2.3" height="2.3" rx="0.6" fill="#1e1ecc"/>
<rect x="343.5" y="229.9" width="2.3" height="2.3" rx="0.6" fill="#1e1ecc"/>
<rect x="347.6" y="229.3" width="2.3" height="2.3" rx="0.6" fill="#1e1ecc"/>
<rect x="344.2" y="229.9" width="2.3" height="2.3" rx="0.6" fill="#1e1ecc"/>
<rect x="344.1" y="231.0" width="2.3" height="2.3" rx="0.6" fill="#1e1ecc"/>
<rect x="346.3" y="219.2" width="2.3" height="2.3" rx="0.6" fill="#1e1ecc"/>
<rect x="347.6" y="234.3" width="2.3" height="2.3" rx="0.6" fill="#1e1ecc"/>
<rect x="344.1" y="237.4" width="2.3" height="2.3" rx="0.6" fill="#1e1ecc"/>
<rect x="344.0" y="216.2" width="2.3" height="2.3" rx="0.6" fill="#1e1ecc"/>
<rect x="345.6" y="235.1" width="2.3" height="2.3" rx="0.6" fill="#1e1ecc"/>
<rect x="346.1" y="227.6" width="2.3" height="2.3" rx="0.6" fill="#1e1ecc"/>
<rect x="345.4" y="221.4" width="2.3" height="2.3" rx="0.6" fill="#1e1ecc"/>
<rect x="344.2" y="224.2" width="2.3" height="2.3" rx="0.6" fill="#1e1ecc"/>
<polygon points="353.5,231.5 358.0,232.0 361.5,234.5 361.5,250.0 356.0,250.0 353.5,245.0" fill="#1e1ecc"/>
<rect x="356.8" y="249.8" width="2.3" height="2.3" rx="0.6" fill="#1e1ecc"/>
<rect x="351.8" y="234.3" width="2.3" height="2.3" rx="0.6" fill="#1e1ecc"/>
<rect x="361.1" y="243.4" width="2.3" height="2.3" rx="0.6" fill="#1e1ecc"/>
<rect x="351.8" y="238.5" width="2.3" height="2.3" rx="0.6" fill="#1e1ecc"/>
<rect x="358.0" y="249.1" width="2.3" height="2.3" rx="0.6" fill="#1e1ecc"/>
<rect x="359.2" y="234.9" width="2.3" height="2.3" rx="0.6" fill="#1e1ecc"/>
<rect x="356.7" y="247.1" width="2.3" height="2.3" rx="0.6" fill="#1e1ecc"/>
<rect x="353.6" y="244.4" width="2.3" height="2.3" rx="0.6" fill="#1e1ecc"/>
<rect x="357.0" y="230.3" width="2.3" height="2.3" rx="0.6" fill="#1e1ecc"/>
<rect x="353.9" y="237.9" width="2.3" height="2.3" rx="0.6" fill="#1e1ecc"/>
<rect x="353.7" y="233.8" width="2.3" height="2.3" rx="0.6" fill="#1e1ecc"/>
<rect x="357.4" y="240.5" width="2.3" height="2.3" rx="0.6" fill="#1e1ecc"/>
<rect x="354.4" y="235.9" width="2.3" height="2.3" rx="0.6" fill="#1e1ecc"/>
<rect x="356.3" y="249.0" width="2.3" height="2.3" rx="0.6" fill="#1e1ecc"/>
<rect x="361.0" y="244.0" width="2.3" height="2.3" rx="0.6" fill="#1e1ecc"/>
<rect x="359.6" y="237.2" width="2.3" height="2.3" rx="0.6" fill="#1e1ecc"/>
<rect x="361.3" y="245.3" width="2.3" height="2.3" rx="0.6" fill="#1e1ecc"/>
<rect x="358.3" y="238.7" width="2.3" height="2.3" rx="0.6" fill="#1e1ecc"/>
<rect x="353.4" y="244.1" width="2.3" height="2.3" rx="0.6" fill="#1e1ecc"/>
<rect x="354.3" y="240.6" width="2.3" height="2.3" rx="0.6" fill="#1e1ecc"/>
<rect x="353.3" y="231.5" width="2.3" height="2.3" rx="0.6" fill="#1e1ecc"/>
<rect x="353.0" y="229.0" width="2.3" height="2.3" rx="0.6" fill="#1e1ecc"/>
<rect x="352.3" y="237.4" width="2.3" height="2.3" rx="0.6" fill="#1e1ecc"/>
<rect x="356.4" y="242.9" width="2.3" height="2.3" rx="0.6" fill="#1e1ecc"/>
<rect x="354.3" y="231.5" width="2.3" height="2.3" rx="0.6" fill="#1e1ecc"/>
<rect x="360.8" y="242.8" width="2.3" height="2.3" rx="0.6" fill="#1e1ecc"/>
<rect x="358.2" y="244.1" width="2.3" height="2.3" rx="0.6" fill="#1e1ecc"/>
<rect x="354.5" y="241.9" width="2.3" height="2.3" rx="0.6" fill="#1e1ecc"/>
<rect x="354.4" y="243.3" width="2.3" height="2.3" rx="0.6" fill="#1e1ecc"/>
<rect x="351.2" y="230.3" width="2.3" height="2.3" rx="0.6" fill="#1e1ecc"/>
<rect x="357.0" y="247.9" width="2.3" height="2.3" rx="0.6" fill="#1e1ecc"/>
<rect x="360.9" y="232.2" width="2.3" height="2.3" rx="0.6" fill="#1e1ecc"/>
<rect x="355.6" y="249.7" width="2.3" height="2.3" rx="0.6" fill="#1e1ecc"/>
<rect x="360.5" y="247.2" width="2.3" height="2.3" rx="0.6" fill="#1e1ecc"/>
<rect x="353.7" y="234.8" width="2.3" height="2.3" rx="0.6" fill="#1e1ecc"/>
<rect x="352.6" y="234.5" width="2.3" height="2.3" rx="0.6" fill="#1e1ecc"/>
<rect x="355.3" y="246.5" width="2.3" height="2.3" rx="0.6" fill="#1e1ecc"/>
<rect x="358.0" y="232.5" width="2.3" height="2.3" rx="0.6" fill="#1e1ecc"/>
<rect x="352.9" y="238.7" width="2.3" height="2.3" rx="0.6" fill="#1e1ecc"/>
<rect x="360.5" y="239.2" width="2.3" height="2.3" rx="0.6" fill="#1e1ecc"/>
<rect x="359.4" y="244.1" width="2.3" height="2.3" rx="0.6" fill="#1e1ecc"/>
<rect x="360.4" y="239.8" width="2.3" height="2.3" rx="0.6" fill="#1e1ecc"/>
<rect x="355.1" y="238.9" width="2.3" height="2.3" rx="0.6" fill="#1e1ecc"/>
<rect x="359.6" y="234.9" width="2.3" height="2.3" rx="0.6" fill="#1e1ecc"/>
<rect x="353.1" y="247.4" width="2.3" height="2.3" rx="0.6" fill="#1e1ecc"/>
<rect x="356.1" y="243.0" width="2.3" height="2.3" rx="0.6" fill="#1e1ecc"/>
<rect x="352.9" y="229.6" width="2.3" height="2.3" rx="0.6" fill="#1e1ecc"/>
<rect x="353.4" y="238.3" width="2.3" height="2.3" rx="0.6" fill="#1e1ecc"/>
<rect x="351.4" y="234.8" width="2.3" height="2.3" rx="0.6" fill="#1e1ecc"/>
<rect x="361.0" y="238.4" width="2.3" height="2.3" rx="0.6" fill="#1e1ecc"/>
<rect x="354.2" y="232.5" width="2.3" height="2.3" rx="0.6" fill="#1e1ecc"/>
<rect x="357.8" y="243.5" width="2.3" height="2.3" rx="0.6" fill="#1e1ecc"/>
<rect x="354.5" y="244.6" width="2.3" height="2.3" rx="0.6" fill="#1e1ecc"/>
<rect x="360.3" y="236.3" width="2.3" height="2.3" rx="0.6" fill="#1e1ecc"/>
<rect x="357.3" y="235.2" width="2.3" height="2.3" rx="0.6" fill="#1e1ecc"/>
<rect x="358.0" y="245.6" width="2.3" height="2.3" rx="0.6" fill="#1e1ecc"/>
<rect x="354.7" y="243.6" width="2.3" height="2.3" rx="0.6" fill="#1e1ecc"/>
<rect x="361.0" y="232.4" width="2.3" height="2.3" rx="0.6" fill="#1e1ecc"/>
<rect x="359.5" y="239.3" width="2.3" height="2.3" rx="0.6" fill="#1e1ecc"/>
<rect x="355.1" y="232.3" width="2.3" height="2.3" rx="0.6" fill="#1e1ecc"/>
<polygon points="366.0,250.0 367.2,250.0 370.0,260.0 373.0,269.0 376.3,282.0 376.0,288.5 375.3,288.5 372.0,279.0 368.5,270.0 366.3,260.0" fill="#1e1ecc"/>
<rect x="370.3" y="262.3" width="2.3" height="2.3" rx="0.6" fill="#1e1ecc"/>
<rect x="367.9" y="257.1" width="2.3" height="2.3" rx="0.6" fill="#1e1ecc"/>
<rect x="364.2" y="248.3" width="2.3" height="2.3" rx="0.6" fill="#1e1ecc"/>
<rect x="373.6" y="279.3" width="2.3" height="2.3" rx="0.6" fill="#1e1ecc"/>
<rect x="371.5" y="271.3" width="2.3" height="2.3" rx="0.6" fill="#1e1ecc"/>
<rect x="371.1" y="275.1" width="2.3" height="2.3" rx="0.6" fill="#1e1ecc"/>
<rect x="375.1" y="287.7" width="2.3" height="2.3" rx="0.6" fill="#1e1ecc"/>
<rect x="366.4" y="258.2" width="2.3" height="2.3" rx="0.6" fill="#1e1ecc"/>
<rect x="367.2" y="257.3" width="2.3" height="2.3" rx="0.6" fill="#1e1ecc"/>
<rect x="366.2" y="248.4" width="2.3" height="2.3" rx="0.6" fill="#1e1ecc"/>
<rect x="369.1" y="264.9" width="2.3" height="2.3" rx="0.6" fill="#1e1ecc"/>
<rect x="370.4" y="271.7" width="2.3" height="2.3" rx="0.6" fill="#1e1ecc"/>
<rect x="365.8" y="249.6" width="2.3" height="2.3" rx="0.6" fill="#1e1ecc"/>
<rect x="373.2" y="276.7" width="2.3" height="2.3" rx="0.6" fill="#1e1ecc"/>
<rect x="367.8" y="259.0" width="2.3" height="2.3" rx="0.6" fill="#1e1ecc"/>
<rect x="364.1" y="251.3" width="2.3" height="2.3" rx="0.6" fill="#1e1ecc"/>
<rect x="374.1" y="276.5" width="2.3" height="2.3" rx="0.6" fill="#1e1ecc"/>
<rect x="370.6" y="264.1" width="2.3" height="2.3" rx="0.6" fill="#1e1ecc"/>
<rect x="370.2" y="262.9" width="2.3" height="2.3" rx="0.6" fill="#1e1ecc"/>
<rect x="364.8" y="249.7" width="2.3" height="2.3" rx="0.6" fill="#1e1ecc"/>
<rect x="368.7" y="273.6" width="2.3" height="2.3" rx="0.6" fill="#1e1ecc"/>
<rect x="369.8" y="274.0" width="2.3" height="2.3" rx="0.6" fill="#1e1ecc"/>
<rect x="368.6" y="273.8" width="2.3" height="2.3" rx="0.6" fill="#1e1ecc"/>
<rect x="367.0" y="255.4" width="2.3" height="2.3" rx="0.6" fill="#1e1ecc"/>
<rect x="371.7" y="266.5" width="2.3" height="2.3" rx="0.6" fill="#1e1ecc"/>
<rect x="375.9" y="286.4" width="2.3" height="2.3" rx="0.6" fill="#1e1ecc"/>
<rect x="366.0" y="265.4" width="2.3" height="2.3" rx="0.6" fill="#1e1ecc"/>
<rect x="369.0" y="265.4" width="2.3" height="2.3" rx="0.6" fill="#1e1ecc"/>
<rect x="364.9" y="260.0" width="2.3" height="2.3" rx="0.6" fill="#1e1ecc"/>
<rect x="367.7" y="268.8" width="2.3" height="2.3" rx="0.6" fill="#1e1ecc"/>
<rect x="367.4" y="263.6" width="2.3" height="2.3" rx="0.6" fill="#1e1ecc"/>
<rect x="366.0" y="266.2" width="2.3" height="2.3" rx="0.6" fill="#1e1ecc"/>
<rect x="367.6" y="268.7" width="2.3" height="2.3" rx="0.6" fill="#1e1ecc"/>
<rect x="364.4" y="253.0" width="2.3" height="2.3" rx="0.6" fill="#1e1ecc"/>
<rect x="364.3" y="252.8" width="2.3" height="2.3" rx="0.6" fill="#1e1ecc"/>
<rect x="375.2" y="286.9" width="2.3" height="2.3" rx="0.6" fill="#1e1ecc"/>
<rect x="366.4" y="262.9" width="2.3" height="2.3" rx="0.6" fill="#1e1ecc"/>
<rect x="374.3" y="280.7" width="2.3" height="2.3" rx="0.6" fill="#1e1ecc"/>
<rect x="374.1" y="275.7" width="2.3" height="2.3" rx="0.6" fill="#1e1ecc"/>
<rect x="367.7" y="261.5" width="2.3" height="2.3" rx="0.6" fill="#1e1ecc"/>
<rect x="372.0" y="274.5" width="2.3" height="2.3" rx="0.6" fill="#1e1ecc"/>
<rect x="369.1" y="271.7" width="2.3" height="2.3" rx="0.6" fill="#1e1ecc"/>
<rect x="373.8" y="282.1" width="2.3" height="2.3" rx="0.6" fill="#1e1ecc"/>
<rect x="372.9" y="278.0" width="2.3" height="2.3" rx="0.6" fill="#1e1ecc"/>
<rect x="366.4" y="250.7" width="2.3" height="2.3" rx="0.6" fill="#1e1ecc"/>
<rect x="373.4" y="274.9" width="2.3" height="2.3" rx="0.6" fill="#1e1ecc"/>
<rect x="364.1" y="249.7" width="2.3" height="2.3" rx="0.6" fill="#1e1ecc"/>
<rect x="369.0" y="274.3" width="2.3" height="2.3" rx="0.6" fill="#1e1ecc"/>
<rect x="367.2" y="257.3" width="2.3" height="2.3" rx="0.6" fill="#1e1ecc"/>
<rect x="375.8" y="280.7" width="2.3" height="2.3" rx="0.6" fill="#1e1ecc"/>
<rect x="365.5" y="252.0" width="2.3" height="2.3" rx="0.6" fill="#1e1ecc"/>
<rect x="364.2" y="252.1" width="2.3" height="2.3" rx="0.6" fill="#1e1ecc"/>
<rect x="367.3" y="257.9" width="2.3" height="2.3" rx="0.6" fill="#1e1ecc"/>
<rect x="364.6" y="259.5" width="2.3" height="2.3" rx="0.6" fill="#1e1ecc"/>
<rect x="372.4" y="278.2" width="2.3" height="2.3" rx="0.6" fill="#1e1ecc"/>
<rect x="292.4" y="201.2" width="1" height="2.7" fill="#8080f4"/>
<rect x="304.8" y="203.4" width="1" height="1.8" fill="#8080f4"/>
<rect x="323.0" y="213.6" width="1" height="2.1" fill="#8080f4"/>
<rect x="333.9" y="220.0" width="1" height="1.7" fill="#8080f4"/>
<rect x="306.5" y="205.2" width="1" height="2.2" fill="#8080f4"/>
<rect x="299.2" y="204.3" width="1" height="1.9" fill="#8080f4"/>
<rect x="324.5" y="207.7" width="1" height="1.7" fill="#8080f4"/>
<rect x="289.8" y="197.7" width="1" height="1.6" fill="#8080f4"/>
<rect x="305.0" y="199.8" width="1" height="2.5" fill="#8080f4"/>
<rect x="318.2" y="206.7" width="1" height="1.9" fill="#8080f4"/>
<rect x="297.5" y="206.1" width="1" height="2.6" fill="#8080f4"/>
<rect x="315.3" y="202.9" width="1" height="2.6" fill="#8080f4"/>
<rect x="299.0" y="195.5" width="1" height="1.8" fill="#8080f4"/>
<rect x="306.4" y="207.7" width="1" height="1.4" fill="#8080f4"/>
<rect x="291.8" y="198.6" width="1" height="1.3" fill="#8080f4"/>
<rect x="319.5" y="209.2" width="1" height="2.5" fill="#8080f4"/>
<rect x="332.0" y="214.3" width="1" height="2.4" fill="#8080f4"/>
<rect x="312.0" y="211.5" width="1" height="1.3" fill="#8080f4"/>
<rect x="310.0" y="210.9" width="1" height="1.3" fill="#8080f4"/>
<rect x="303.0" y="200.0" width="1" height="1.7" fill="#8080f4"/>
<rect x="334.7" y="215.7" width="1" height="2.4" fill="#8080f4"/>
<rect x="301.3" y="205.6" width="1" height="1.4" fill="#8080f4"/>
<rect x="293.6" y="207.2" width="1" height="1.2" fill="#8080f4"/>
<rect x="318.5" y="205.0" width="1" height="2.1" fill="#8080f4"/>
<rect x="303.6" y="203.8" width="1" height="2.2" fill="#8080f4"/>
<rect x="323.5" y="207.4" width="1" height="2.4" fill="#8080f4"/>
<rect x="300.0" y="201.9" width="1" height="2.4" fill="#8080f4"/>
<rect x="324.5" y="212.7" width="1" height="1.9" fill="#8080f4"/>
<rect x="296.1" y="205.4" width="1" height="2.1" fill="#8080f4"/>
<rect x="324.5" y="217.7" width="1" height="2.3" fill="#8080f4"/>
<circle cx="335.5" cy="279.4" r="1.3" fill="#22208a"/>
<circle cx="360.1" cy="280.0" r="1.3" fill="#22208a"/>
<circle cx="375.9" cy="293.6" r="1.3" fill="#22208a"/>
<circle cx="366.9" cy="239.2" r="1.3" fill="#22208a"/>
<circle cx="373.4" cy="261.5" r="1.3" fill="#22208a"/>
<circle cx="304.2" cy="189.6" r="1.3" fill="#22208a"/>
<circle cx="314.5" cy="230.0" r="1.3" fill="#22208a"/>
<circle cx="360.1" cy="263.6" r="1.2" fill="#8a3a6a"/>
<circle cx="341.0" cy="257.4" r="1.1" fill="#a04070"/>
<polygon points="478.0,230.0 484.0,226.5 491.0,226.0 496.0,228.5 496.5,230.2" fill="#a6dca0"/>
<line x1="462.0" y1="227.9" x2="478.0" y2="227.9" stroke="#b8c4c4" stroke-width="1.2" stroke-linecap="butt"/>
<polygon points="477.6,221.0 480.2,221.0 481.2,224.6 484.0,222.6 485.2,223.6 481.8,229.0 479.4,229.0" fill="#1616c4"/>
<ellipse cx="496.4" cy="224.9" rx="4.4" ry="2.9" transform="rotate(12 496.4 224.9)" fill="#1616c4"/>
<polygon points="367.5,206.0 370.5,205.5 371.5,216.0 368.0,217.0" fill="#2a76d6"/>
<rect x="365.9" y="204.8" width="2.3" height="2.3" rx="0.6" fill="#2a76d6"/>
<rect x="366.1" y="207.3" width="2.3" height="2.3" rx="0.6" fill="#2a76d6"/>
<rect x="365.9" y="209.8" width="2.3" height="2.3" rx="0.6" fill="#2a76d6"/>
<rect x="366.4" y="212.3" width="2.3" height="2.3" rx="0.6" fill="#2a76d6"/>
<rect x="366.9" y="214.8" width="2.3" height="2.3" rx="0.6" fill="#2a76d6"/>
<rect x="369.4" y="206.3" width="2.3" height="2.3" rx="0.6" fill="#2a76d6"/>
<rect x="369.9" y="208.8" width="2.3" height="2.3" rx="0.6" fill="#2a76d6"/>
<rect x="370.1" y="211.3" width="2.3" height="2.3" rx="0.6" fill="#2a76d6"/>
<rect x="369.9" y="213.8" width="2.3" height="2.3" rx="0.6" fill="#2a76d6"/>
<rect x="370.4" y="216.7" width="2.3" height="2.3" rx="0.6" fill="#2a76d6"/>
<rect x="371.7" y="212.0" width="2.3" height="2.3" rx="0.6" fill="#2a76d6"/>
<rect x="367.9" y="203.7" width="2.3" height="2.3" rx="0.6" fill="#2a76d6"/>
<line x1="83.5" y1="37.5" x2="536.5" y2="37.5" stroke="#4a4a4a" stroke-width="1" stroke-linecap="butt"/>
<line x1="83.5" y1="401.5" x2="536.5" y2="401.5" stroke="#4a4a4a" stroke-width="1" stroke-linecap="butt"/>
<line x1="84.0" y1="37.0" x2="84.0" y2="402.0" stroke="#8a8a8a" stroke-width="1.8" stroke-linecap="butt"/>
<line x1="536.5" y1="37.0" x2="536.5" y2="402.0" stroke="#4a4a4a" stroke-width="1" stroke-linecap="butt"/>
<line x1="83.7" y1="37.0" x2="83.7" y2="29.0" stroke="#6a6a6a" stroke-width="1.1" stroke-linecap="butt"/>
<line x1="83.7" y1="401.0" x2="83.7" y2="408.0" stroke="#6a6a6a" stroke-width="1.1" stroke-linecap="butt"/>
<line x1="102.6" y1="37.0" x2="102.6" y2="33.0" stroke="#6a6a6a" stroke-width="1.1" stroke-linecap="butt"/>
<line x1="102.6" y1="401.0" x2="102.6" y2="404.5" stroke="#6a6a6a" stroke-width="1.1" stroke-linecap="butt"/>
<line x1="121.4" y1="37.0" x2="121.4" y2="33.0" stroke="#6a6a6a" stroke-width="1.1" stroke-linecap="butt"/>
<line x1="121.4" y1="401.0" x2="121.4" y2="404.5" stroke="#6a6a6a" stroke-width="1.1" stroke-linecap="butt"/>
<line x1="140.3" y1="37.0" x2="140.3" y2="33.0" stroke="#6a6a6a" stroke-width="1.1" stroke-linecap="butt"/>
<line x1="140.3" y1="401.0" x2="140.3" y2="404.5" stroke="#6a6a6a" stroke-width="1.1" stroke-linecap="butt"/>
<line x1="159.2" y1="37.0" x2="159.2" y2="33.0" stroke="#6a6a6a" stroke-width="1.1" stroke-linecap="butt"/>
<line x1="159.2" y1="401.0" x2="159.2" y2="404.5" stroke="#6a6a6a" stroke-width="1.1" stroke-linecap="butt"/>
<line x1="178.1" y1="37.0" x2="178.1" y2="29.0" stroke="#6a6a6a" stroke-width="1.1" stroke-linecap="butt"/>
<line x1="178.1" y1="401.0" x2="178.1" y2="408.0" stroke="#6a6a6a" stroke-width="1.1" stroke-linecap="butt"/>
<line x1="196.9" y1="37.0" x2="196.9" y2="33.0" stroke="#6a6a6a" stroke-width="1.1" stroke-linecap="butt"/>
<line x1="196.9" y1="401.0" x2="196.9" y2="404.5" stroke="#6a6a6a" stroke-width="1.1" stroke-linecap="butt"/>
<line x1="215.8" y1="37.0" x2="215.8" y2="33.0" stroke="#6a6a6a" stroke-width="1.1" stroke-linecap="butt"/>
<line x1="215.8" y1="401.0" x2="215.8" y2="404.5" stroke="#6a6a6a" stroke-width="1.1" stroke-linecap="butt"/>
<line x1="234.7" y1="37.0" x2="234.7" y2="33.0" stroke="#6a6a6a" stroke-width="1.1" stroke-linecap="butt"/>
<line x1="234.7" y1="401.0" x2="234.7" y2="404.5" stroke="#6a6a6a" stroke-width="1.1" stroke-linecap="butt"/>
<line x1="253.5" y1="37.0" x2="253.5" y2="33.0" stroke="#6a6a6a" stroke-width="1.1" stroke-linecap="butt"/>
<line x1="253.5" y1="401.0" x2="253.5" y2="404.5" stroke="#6a6a6a" stroke-width="1.1" stroke-linecap="butt"/>
<line x1="272.4" y1="37.0" x2="272.4" y2="29.0" stroke="#6a6a6a" stroke-width="1.1" stroke-linecap="butt"/>
<line x1="272.4" y1="401.0" x2="272.4" y2="408.0" stroke="#6a6a6a" stroke-width="1.1" stroke-linecap="butt"/>
<line x1="291.3" y1="37.0" x2="291.3" y2="33.0" stroke="#6a6a6a" stroke-width="1.1" stroke-linecap="butt"/>
<line x1="291.3" y1="401.0" x2="291.3" y2="404.5" stroke="#6a6a6a" stroke-width="1.1" stroke-linecap="butt"/>
<line x1="310.1" y1="37.0" x2="310.1" y2="33.0" stroke="#6a6a6a" stroke-width="1.1" stroke-linecap="butt"/>
<line x1="310.1" y1="401.0" x2="310.1" y2="404.5" stroke="#6a6a6a" stroke-width="1.1" stroke-linecap="butt"/>
<line x1="329.0" y1="37.0" x2="329.0" y2="33.0" stroke="#6a6a6a" stroke-width="1.1" stroke-linecap="butt"/>
<line x1="329.0" y1="401.0" x2="329.0" y2="404.5" stroke="#6a6a6a" stroke-width="1.1" stroke-linecap="butt"/>
<line x1="347.9" y1="37.0" x2="347.9" y2="33.0" stroke="#6a6a6a" stroke-width="1.1" stroke-linecap="butt"/>
<line x1="347.9" y1="401.0" x2="347.9" y2="404.5" stroke="#6a6a6a" stroke-width="1.1" stroke-linecap="butt"/>
<line x1="366.8" y1="37.0" x2="366.8" y2="29.0" stroke="#6a6a6a" stroke-width="1.1" stroke-linecap="butt"/>
<line x1="366.8" y1="401.0" x2="366.8" y2="408.0" stroke="#6a6a6a" stroke-width="1.1" stroke-linecap="butt"/>
<line x1="385.6" y1="37.0" x2="385.6" y2="33.0" stroke="#6a6a6a" stroke-width="1.1" stroke-linecap="butt"/>
<line x1="385.6" y1="401.0" x2="385.6" y2="404.5" stroke="#6a6a6a" stroke-width="1.1" stroke-linecap="butt"/>
<line x1="404.5" y1="37.0" x2="404.5" y2="33.0" stroke="#6a6a6a" stroke-width="1.1" stroke-linecap="butt"/>
<line x1="404.5" y1="401.0" x2="404.5" y2="404.5" stroke="#6a6a6a" stroke-width="1.1" stroke-linecap="butt"/>
<line x1="423.4" y1="37.0" x2="423.4" y2="33.0" stroke="#6a6a6a" stroke-width="1.1" stroke-linecap="butt"/>
<line x1="423.4" y1="401.0" x2="423.4" y2="404.5" stroke="#6a6a6a" stroke-width="1.1" stroke-linecap="butt"/>
<line x1="442.2" y1="37.0" x2="442.2" y2="33.0" stroke="#6a6a6a" stroke-width="1.1" stroke-linecap="butt"/>
<line x1="442.2" y1="401.0" x2="442.2" y2="404.5" stroke="#6a6a6a" stroke-width="1.1" stroke-linecap="butt"/>
<line x1="461.1" y1="37.0" x2="461.1" y2="29.0" stroke="#6a6a6a" stroke-width="1.1" stroke-linecap="butt"/>
<line x1="461.1" y1="401.0" x2="461.1" y2="408.0" stroke="#6a6a6a" stroke-width="1.1" stroke-linecap="butt"/>
<line x1="480.0" y1="37.0" x2="480.0" y2="33.0" stroke="#6a6a6a" stroke-width="1.1" stroke-linecap="butt"/>
<line x1="480.0" y1="401.0" x2="480.0" y2="404.5" stroke="#6a6a6a" stroke-width="1.1" stroke-linecap="butt"/>
<line x1="498.8" y1="37.0" x2="498.8" y2="33.0" stroke="#6a6a6a" stroke-width="1.1" stroke-linecap="butt"/>
<line x1="498.8" y1="401.0" x2="498.8" y2="404.5" stroke="#6a6a6a" stroke-width="1.1" stroke-linecap="butt"/>
<line x1="517.7" y1="37.0" x2="517.7" y2="33.0" stroke="#6a6a6a" stroke-width="1.1" stroke-linecap="butt"/>
<line x1="517.7" y1="401.0" x2="517.7" y2="404.5" stroke="#6a6a6a" stroke-width="1.1" stroke-linecap="butt"/>
<line x1="536.6" y1="37.0" x2="536.6" y2="33.0" stroke="#6a6a6a" stroke-width="1.1" stroke-linecap="butt"/>
<line x1="536.6" y1="401.0" x2="536.6" y2="404.5" stroke="#6a6a6a" stroke-width="1.1" stroke-linecap="butt"/>
<line x1="83.0" y1="401.3" x2="80.5" y2="401.3" stroke="#7a7a7a" stroke-width="1.5" stroke-linecap="butt"/>
<line x1="537.0" y1="401.3" x2="539.5" y2="401.3" stroke="#6a6a6a" stroke-width="1.2" stroke-linecap="butt"/>
<line x1="83.0" y1="381.0" x2="80.5" y2="381.0" stroke="#7a7a7a" stroke-width="1.5" stroke-linecap="butt"/>
<line x1="537.0" y1="381.0" x2="539.5" y2="381.0" stroke="#6a6a6a" stroke-width="1.2" stroke-linecap="butt"/>
<line x1="83.0" y1="360.8" x2="78.0" y2="360.8" stroke="#7a7a7a" stroke-width="1.5" stroke-linecap="butt"/>
<line x1="537.0" y1="360.8" x2="542.0" y2="360.8" stroke="#6a6a6a" stroke-width="1.2" stroke-linecap="butt"/>
<line x1="83.0" y1="340.6" x2="80.5" y2="340.6" stroke="#7a7a7a" stroke-width="1.5" stroke-linecap="butt"/>
<line x1="537.0" y1="340.6" x2="539.5" y2="340.6" stroke="#6a6a6a" stroke-width="1.2" stroke-linecap="butt"/>
<line x1="83.0" y1="320.4" x2="80.5" y2="320.4" stroke="#7a7a7a" stroke-width="1.5" stroke-linecap="butt"/>
<line x1="537.0" y1="320.4" x2="539.5" y2="320.4" stroke="#6a6a6a" stroke-width="1.2" stroke-linecap="butt"/>
<line x1="83.0" y1="300.2" x2="80.5" y2="300.2" stroke="#7a7a7a" stroke-width="1.5" stroke-linecap="butt"/>
<line x1="537.0" y1="300.2" x2="539.5" y2="300.2" stroke="#6a6a6a" stroke-width="1.2" stroke-linecap="butt"/>
<line x1="83.0" y1="279.9" x2="78.0" y2="279.9" stroke="#7a7a7a" stroke-width="1.5" stroke-linecap="butt"/>
<line x1="537.0" y1="279.9" x2="542.0" y2="279.9" stroke="#6a6a6a" stroke-width="1.2" stroke-linecap="butt"/>
<line x1="83.0" y1="259.7" x2="80.5" y2="259.7" stroke="#7a7a7a" stroke-width="1.5" stroke-linecap="butt"/>
<line x1="537.0" y1="259.7" x2="539.5" y2="259.7" stroke="#6a6a6a" stroke-width="1.2" stroke-linecap="butt"/>
<line x1="83.0" y1="239.5" x2="80.5" y2="239.5" stroke="#7a7a7a" stroke-width="1.5" stroke-linecap="butt"/>
<line x1="537.0" y1="239.5" x2="539.5" y2="239.5" stroke="#6a6a6a" stroke-width="1.2" stroke-linecap="butt"/>
<line x1="83.0" y1="219.3" x2="80.5" y2="219.3" stroke="#7a7a7a" stroke-width="1.5" stroke-linecap="butt"/>
<line x1="537.0" y1="219.3" x2="539.5" y2="219.3" stroke="#6a6a6a" stroke-width="1.2" stroke-linecap="butt"/>
<line x1="83.0" y1="199.1" x2="78.0" y2="199.1" stroke="#7a7a7a" stroke-width="1.5" stroke-linecap="butt"/>
<line x1="537.0" y1="199.1" x2="542.0" y2="199.1" stroke="#6a6a6a" stroke-width="1.2" stroke-linecap="butt"/>
<line x1="83.0" y1="178.8" x2="80.5" y2="178.8" stroke="#7a7a7a" stroke-width="1.5" stroke-linecap="butt"/>
<line x1="537.0" y1="178.8" x2="539.5" y2="178.8" stroke="#6a6a6a" stroke-width="1.2" stroke-linecap="butt"/>
<line x1="83.0" y1="158.6" x2="80.5" y2="158.6" stroke="#7a7a7a" stroke-width="1.5" stroke-linecap="butt"/>
<line x1="537.0" y1="158.6" x2="539.5" y2="158.6" stroke="#6a6a6a" stroke-width="1.2" stroke-linecap="butt"/>
<line x1="83.0" y1="138.4" x2="80.5" y2="138.4" stroke="#7a7a7a" stroke-width="1.5" stroke-linecap="butt"/>
<line x1="537.0" y1="138.4" x2="539.5" y2="138.4" stroke="#6a6a6a" stroke-width="1.2" stroke-linecap="butt"/>
<line x1="83.0" y1="118.2" x2="78.0" y2="118.2" stroke="#7a7a7a" stroke-width="1.5" stroke-linecap="butt"/>
<line x1="537.0" y1="118.2" x2="542.0" y2="118.2" stroke="#6a6a6a" stroke-width="1.2" stroke-linecap="butt"/>
<line x1="83.0" y1="98.0" x2="80.5" y2="98.0" stroke="#7a7a7a" stroke-width="1.5" stroke-linecap="butt"/>
<line x1="537.0" y1="98.0" x2="539.5" y2="98.0" stroke="#6a6a6a" stroke-width="1.2" stroke-linecap="butt"/>
<line x1="83.0" y1="77.7" x2="80.5" y2="77.7" stroke="#7a7a7a" stroke-width="1.5" stroke-linecap="butt"/>
<line x1="537.0" y1="77.7" x2="539.5" y2="77.7" stroke="#6a6a6a" stroke-width="1.2" stroke-linecap="butt"/>
<line x1="83.0" y1="57.5" x2="80.5" y2="57.5" stroke="#7a7a7a" stroke-width="1.5" stroke-linecap="butt"/>
<line x1="537.0" y1="57.5" x2="539.5" y2="57.5" stroke="#6a6a6a" stroke-width="1.2" stroke-linecap="butt"/>
<line x1="83.0" y1="37.3" x2="78.0" y2="37.3" stroke="#7a7a7a" stroke-width="1.5" stroke-linecap="butt"/>
<line x1="537.0" y1="37.3" x2="542.0" y2="37.3" stroke="#6a6a6a" stroke-width="1.2" stroke-linecap="butt"/>
<text x="310.1" y="29.8" fill="#262626" font-size="19.9" text-anchor="middle" >LEO Satellite Orbital Altitude</text>
<text x="75.2" y="46.3" fill="#2e2e2e" font-size="16" text-anchor="end" >1000</text>
<text x="75.2" y="123.8" fill="#2e2e2e" font-size="16" text-anchor="end" >800</text>
<text x="75.2" y="204.7" fill="#2e2e2e" font-size="16" text-anchor="end" >600</text>
<text x="75.2" y="285.5" fill="#2e2e2e" font-size="16" text-anchor="end" >400</text>
<text x="75.2" y="366.4" fill="#2e2e2e" font-size="16" text-anchor="end" >200</text>
<text x="84.0" y="428.2" fill="#2e2e2e" font-size="16" text-anchor="middle" >2000</text>
<text x="178.4" y="428.2" fill="#2e2e2e" font-size="16" text-anchor="middle" >2005</text>
<text x="272.7" y="428.2" fill="#2e2e2e" font-size="16" text-anchor="middle" >2010</text>
<text x="367.1" y="428.2" fill="#2e2e2e" font-size="16" text-anchor="middle" >2015</text>
<text x="461.4" y="428.2" fill="#2e2e2e" font-size="16" text-anchor="middle" >2020</text>
<text transform="translate(28.9,218.6) rotate(-90)" fill="#2e2e2e" font-size="16" text-anchor="middle">Daily Altitude (km)</text>
<rect x="176.5" y="361.2" width="32.0" height="13.0" fill="#fdf1f9"/>
<rect x="85.0" y="358.5" width="42.0" height="9.5" fill="#f4fdfd"/>
<text transform="translate(92.9,53.4) scale(1,0.9)" fill="#e38f47" font-size="15.8" text-anchor="start" >C1-1</text>
<text transform="translate(140.0,53.4) scale(1,0.9)" fill="#da2b86" font-size="15.8" text-anchor="start" >C2-1</text>
<text transform="translate(92.9,69.6) scale(1,0.9)" fill="#e38f47" font-size="15.8" text-anchor="start" >C1-2</text>
<text transform="translate(140.0,69.6) scale(1,0.9)" fill="#da2b86" font-size="15.8" text-anchor="start" >C2-2</text>
<text transform="translate(92.9,85.8) scale(1,0.9)" fill="#e38f47" font-size="15.8" text-anchor="start" >C1-3</text>
<text transform="translate(140.0,85.8) scale(1,0.9)" fill="#da2b86" font-size="15.8" text-anchor="start" >C2-3</text>
<text transform="translate(92.9,102.0) scale(1,0.9)" fill="#e38f47" font-size="15.8" text-anchor="start" >C1-4</text>
<text transform="translate(140.0,102.0) scale(1,0.9)" fill="#da2b86" font-size="15.8" text-anchor="start" >C2-4</text>
<text transform="translate(92.9,118.2) scale(1,0.9)" fill="#e38f47" font-size="15.8" text-anchor="start" >C1-5</text>
<text transform="translate(140.0,118.2) scale(1,0.9)" fill="#da2b86" font-size="15.8" text-anchor="start" >C2-5</text>
<text transform="translate(92.9,134.4) scale(1,0.9)" fill="#e38f47" font-size="15.8" text-anchor="start" >C1-6</text>
<text transform="translate(140.0,134.4) scale(1,0.9)" fill="#da2b86" font-size="15.8" text-anchor="start" >C2-6</text>
<text transform="translate(92.9,150.6) scale(1,0.9)" fill="#2a1f5c" font-size="15.8" text-anchor="start" >metopa</text>
<text transform="translate(92.9,166.8) scale(1,0.9)" fill="#2a1b38" font-size="15.8" text-anchor="start" >metopb</text>
<text transform="translate(92.9,183.0) scale(1,0.9)" fill="#3a1f52" font-size="15.8" text-anchor="start" >metopc</text>
<text transform="translate(92.9,199.2) scale(1,0.9)" fill="#84dc3a" font-size="15.8" text-anchor="start" >champ2016</text>
<text transform="translate(92.9,215.4) scale(1,0.9)" fill="#dc2a74" font-size="15.8" text-anchor="start" >grace</text>
<text transform="translate(92.9,231.6) scale(1,0.9)" fill="#4454b4" font-size="15.8" text-anchor="start" >sacc</text>
<text transform="translate(93.2,335.9) scale(1,0.9)" fill="#5070c4" font-size="15.8" text-anchor="start" >kompsat5</text>
<text transform="translate(93.2,352.2) scale(1,0.9)" fill="#d2c250" font-size="15.8" text-anchor="start" >tsx</text>
<text transform="translate(93.2,368.5) scale(1,0.9)" fill="#6ad2c0" font-size="15.8" text-anchor="start" >tdx</text>
<text transform="translate(93.2,384.8) scale(1,0.9)" fill="#3a2f55" font-size="15.8" text-anchor="start" >paz</text>
<text transform="translate(178.2,356.0) scale(1,0.9)" fill="#40409c" font-size="15.8" text-anchor="start" >cnofs</text>
<text transform="translate(178.2,372.0) scale(1,0.9)" fill="#b474b8" font-size="15.8" text-anchor="start" >fy3c</text>
<text transform="translate(178.2,388.0) scale(1,0.9)" fill="#3232a8" font-size="15.8" text-anchor="start" >fy3d</text>
<text transform="translate(272.3,376.5) scale(1,0.9)" fill="#4646a8" font-size="15.8" text-anchor="start" >spire_noaa</text>
</g>
</svg>
</body></html>
